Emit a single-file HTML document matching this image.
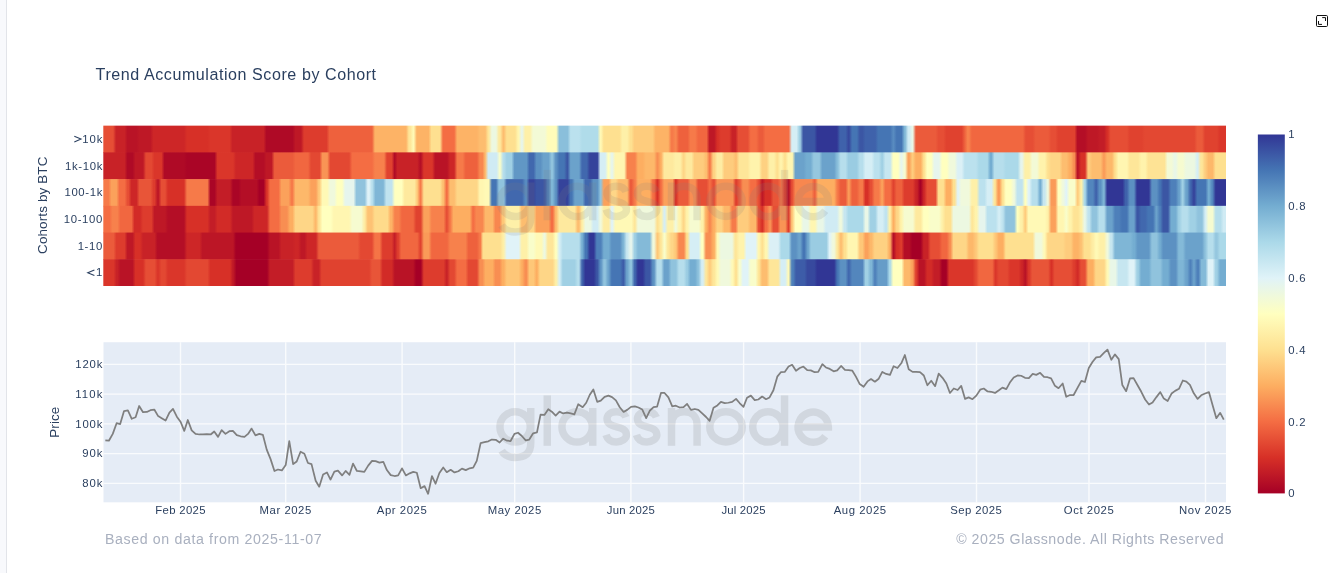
<!DOCTYPE html>
<html><head><meta charset="utf-8"><title>Trend Accumulation Score by Cohort</title>
<style>
html,body{margin:0;padding:0;background:#fff}
body{width:1340px;height:573px;position:relative;overflow:hidden;font-family:"Liberation Sans",sans-serif}
.abs{position:absolute}
</style></head><body>

<div class="abs" style="left:0;top:0;width:6px;height:573px;background:#f8f9fc"></div>
<div class="abs" style="left:6px;top:0;width:1px;height:573px;background:#e2e4e9"></div>
<svg class="abs" style="left:1315px;top:14px" width="14" height="14" viewBox="0 0 14 14" fill="none" stroke="#111" stroke-width="1" stroke-linecap="round" stroke-linejoin="round"><rect x="1.5" y="1.5" width="11" height="11" rx="1.1"/><path d="M7.6,3.6 H10.5 V6.6"/><path d="M3.5,7.4 V10.4 H6.6"/></svg>
<svg class="abs" style="left:0;top:0" width="1340" height="573">
<defs>
<linearGradient id="g0" gradientUnits="userSpaceOnUse" x1="104" x2="1226" y1="0" y2="0"><stop offset="0.00%" stop-color="#e64e35"/><stop offset="0.81%" stop-color="#e64e35"/><stop offset="1.08%" stop-color="#c82227"/><stop offset="1.83%" stop-color="#c82227"/><stop offset="2.09%" stop-color="#b91326"/><stop offset="2.90%" stop-color="#b91326"/><stop offset="3.16%" stop-color="#be1826"/><stop offset="4.14%" stop-color="#be1826"/><stop offset="4.41%" stop-color="#cd2627"/><stop offset="7.13%" stop-color="#cd2627"/><stop offset="7.40%" stop-color="#d73027"/><stop offset="9.22%" stop-color="#d73027"/><stop offset="9.49%" stop-color="#da362a"/><stop offset="11.19%" stop-color="#da362a"/><stop offset="11.45%" stop-color="#c82227"/><stop offset="14.22%" stop-color="#c82227"/><stop offset="14.48%" stop-color="#af0a26"/><stop offset="16.80%" stop-color="#af0a26"/><stop offset="17.07%" stop-color="#be1826"/><stop offset="17.56%" stop-color="#be1826"/><stop offset="17.83%" stop-color="#dd3c2d"/><stop offset="19.83%" stop-color="#dd3c2d"/><stop offset="20.10%" stop-color="#ee613d"/><stop offset="23.89%" stop-color="#ee613d"/><stop offset="24.15%" stop-color="#fdb366"/><stop offset="26.92%" stop-color="#fdb366"/><stop offset="27.18%" stop-color="#fee699"/><stop offset="27.29%" stop-color="#fee699"/><stop offset="27.56%" stop-color="#fff9b6"/><stop offset="27.61%" stop-color="#fff9b6"/><stop offset="27.88%" stop-color="#fdb366"/><stop offset="28.92%" stop-color="#fdb366"/><stop offset="29.19%" stop-color="#fee090"/><stop offset="29.95%" stop-color="#fee090"/><stop offset="30.21%" stop-color="#f46d43"/><stop offset="31.21%" stop-color="#f46d43"/><stop offset="31.48%" stop-color="#fdb366"/><stop offset="33.24%" stop-color="#fdb366"/><stop offset="33.50%" stop-color="#fdbd6f"/><stop offset="33.98%" stop-color="#fdbd6f"/><stop offset="34.25%" stop-color="#fee699"/><stop offset="34.30%" stop-color="#fee699"/><stop offset="34.57%" stop-color="#ecf8e1"/><stop offset="34.94%" stop-color="#ecf8e1"/><stop offset="35.20%" stop-color="#fee99e"/><stop offset="35.31%" stop-color="#fee99e"/><stop offset="35.58%" stop-color="#fdbd6f"/><stop offset="35.63%" stop-color="#fdbd6f"/><stop offset="35.90%" stop-color="#fee090"/><stop offset="36.64%" stop-color="#fee090"/><stop offset="36.91%" stop-color="#fff6b1"/><stop offset="36.96%" stop-color="#fff6b1"/><stop offset="37.23%" stop-color="#e6f5ed"/><stop offset="37.27%" stop-color="#e6f5ed"/><stop offset="37.54%" stop-color="#fef0a8"/><stop offset="37.97%" stop-color="#fef0a8"/><stop offset="38.24%" stop-color="#f3fad6"/><stop offset="39.30%" stop-color="#f3fad6"/><stop offset="39.56%" stop-color="#fffcba"/><stop offset="40.31%" stop-color="#fffcba"/><stop offset="40.58%" stop-color="#8abfdb"/><stop offset="41.32%" stop-color="#8abfdb"/><stop offset="41.59%" stop-color="#bbe1ee"/><stop offset="42.34%" stop-color="#bbe1ee"/><stop offset="42.60%" stop-color="#b0dcea"/><stop offset="43.98%" stop-color="#b0dcea"/><stop offset="44.24%" stop-color="#fff9b6"/><stop offset="44.29%" stop-color="#fff9b6"/><stop offset="44.55%" stop-color="#fee090"/><stop offset="45.94%" stop-color="#fee090"/><stop offset="46.20%" stop-color="#fef0a8"/><stop offset="46.63%" stop-color="#fef0a8"/><stop offset="46.90%" stop-color="#fee090"/><stop offset="47.01%" stop-color="#fee090"/><stop offset="47.28%" stop-color="#fecc7d"/><stop offset="48.90%" stop-color="#fecc7d"/><stop offset="49.17%" stop-color="#fdb366"/><stop offset="50.29%" stop-color="#fdb366"/><stop offset="50.56%" stop-color="#f67a49"/><stop offset="50.67%" stop-color="#f67a49"/><stop offset="50.94%" stop-color="#f8874f"/><stop offset="50.98%" stop-color="#f8874f"/><stop offset="51.25%" stop-color="#ee613d"/><stop offset="52.01%" stop-color="#ee613d"/><stop offset="52.27%" stop-color="#f67a49"/><stop offset="52.69%" stop-color="#f67a49"/><stop offset="52.96%" stop-color="#f16740"/><stop offset="53.70%" stop-color="#f16740"/><stop offset="53.97%" stop-color="#be1826"/><stop offset="54.39%" stop-color="#be1826"/><stop offset="54.66%" stop-color="#d73027"/><stop offset="54.71%" stop-color="#d73027"/><stop offset="54.98%" stop-color="#dd3c2d"/><stop offset="55.72%" stop-color="#dd3c2d"/><stop offset="55.99%" stop-color="#c82227"/><stop offset="56.28%" stop-color="#c82227"/><stop offset="56.55%" stop-color="#e64e35"/><stop offset="57.37%" stop-color="#e64e35"/><stop offset="57.64%" stop-color="#f46d43"/><stop offset="58.13%" stop-color="#f46d43"/><stop offset="58.40%" stop-color="#eb5b3b"/><stop offset="58.69%" stop-color="#eb5b3b"/><stop offset="58.96%" stop-color="#f46d43"/><stop offset="61.03%" stop-color="#f46d43"/><stop offset="61.30%" stop-color="#d5eef5"/><stop offset="61.72%" stop-color="#d5eef5"/><stop offset="61.99%" stop-color="#a0d0e4"/><stop offset="62.05%" stop-color="#a0d0e4"/><stop offset="62.32%" stop-color="#3b56a4"/><stop offset="63.31%" stop-color="#3b56a4"/><stop offset="63.57%" stop-color="#313695"/><stop offset="65.33%" stop-color="#313695"/><stop offset="65.60%" stop-color="#3f62ab"/><stop offset="66.09%" stop-color="#3f62ab"/><stop offset="66.35%" stop-color="#37499e"/><stop offset="66.41%" stop-color="#37499e"/><stop offset="66.68%" stop-color="#4575b4"/><stop offset="67.10%" stop-color="#4575b4"/><stop offset="67.37%" stop-color="#3b56a4"/><stop offset="67.60%" stop-color="#3b56a4"/><stop offset="67.87%" stop-color="#3f62ab"/><stop offset="68.74%" stop-color="#3f62ab"/><stop offset="69.01%" stop-color="#4575b4"/><stop offset="70.07%" stop-color="#4575b4"/><stop offset="70.34%" stop-color="#588bc0"/><stop offset="70.38%" stop-color="#588bc0"/><stop offset="70.65%" stop-color="#4575b4"/><stop offset="71.08%" stop-color="#4575b4"/><stop offset="71.35%" stop-color="#7fb6d6"/><stop offset="71.40%" stop-color="#7fb6d6"/><stop offset="71.67%" stop-color="#d0ebf4"/><stop offset="71.77%" stop-color="#d0ebf4"/><stop offset="72.04%" stop-color="#e9f7e7"/><stop offset="72.09%" stop-color="#e9f7e7"/><stop offset="72.36%" stop-color="#eb5b3b"/><stop offset="74.11%" stop-color="#eb5b3b"/><stop offset="74.38%" stop-color="#e64e35"/><stop offset="74.81%" stop-color="#e64e35"/><stop offset="75.08%" stop-color="#e0422f"/><stop offset="76.45%" stop-color="#e0422f"/><stop offset="76.71%" stop-color="#ee613d"/><stop offset="76.71%" stop-color="#ee613d"/><stop offset="76.96%" stop-color="#f7814c"/><stop offset="77.09%" stop-color="#f7814c"/><stop offset="77.35%" stop-color="#f16740"/><stop offset="81.89%" stop-color="#f16740"/><stop offset="82.16%" stop-color="#e64e35"/><stop offset="82.77%" stop-color="#e64e35"/><stop offset="83.04%" stop-color="#eb5b3b"/><stop offset="84.15%" stop-color="#eb5b3b"/><stop offset="84.42%" stop-color="#e64e35"/><stop offset="84.79%" stop-color="#e64e35"/><stop offset="85.05%" stop-color="#e0422f"/><stop offset="86.50%" stop-color="#e0422f"/><stop offset="86.76%" stop-color="#b40e26"/><stop offset="87.44%" stop-color="#b40e26"/><stop offset="87.71%" stop-color="#be1826"/><stop offset="88.51%" stop-color="#be1826"/><stop offset="88.78%" stop-color="#c31d27"/><stop offset="89.14%" stop-color="#c31d27"/><stop offset="89.41%" stop-color="#d73027"/><stop offset="89.46%" stop-color="#d73027"/><stop offset="89.72%" stop-color="#e64e35"/><stop offset="91.17%" stop-color="#e64e35"/><stop offset="91.43%" stop-color="#e0422f"/><stop offset="92.50%" stop-color="#e0422f"/><stop offset="92.76%" stop-color="#e34832"/><stop offset="97.17%" stop-color="#e34832"/><stop offset="97.44%" stop-color="#eb5b3b"/><stop offset="97.87%" stop-color="#eb5b3b"/><stop offset="98.14%" stop-color="#e0422f"/><stop offset="99.20%" stop-color="#e0422f"/><stop offset="99.47%" stop-color="#da362a"/><stop offset="100.00%" stop-color="#da362a"/></linearGradient>
<linearGradient id="g1" gradientUnits="userSpaceOnUse" x1="104" x2="1226" y1="0" y2="0"><stop offset="0.00%" stop-color="#c82227"/><stop offset="1.83%" stop-color="#c82227"/><stop offset="2.09%" stop-color="#af0a26"/><stop offset="2.54%" stop-color="#af0a26"/><stop offset="2.81%" stop-color="#be1826"/><stop offset="3.48%" stop-color="#be1826"/><stop offset="3.74%" stop-color="#e34832"/><stop offset="4.23%" stop-color="#e34832"/><stop offset="4.50%" stop-color="#da362a"/><stop offset="5.12%" stop-color="#da362a"/><stop offset="5.39%" stop-color="#af0a26"/><stop offset="7.13%" stop-color="#af0a26"/><stop offset="7.40%" stop-color="#aa0526"/><stop offset="9.85%" stop-color="#aa0526"/><stop offset="10.12%" stop-color="#da362a"/><stop offset="11.50%" stop-color="#da362a"/><stop offset="11.76%" stop-color="#cd2627"/><stop offset="13.24%" stop-color="#cd2627"/><stop offset="13.50%" stop-color="#b40e26"/><stop offset="14.22%" stop-color="#b40e26"/><stop offset="14.48%" stop-color="#be1826"/><stop offset="14.93%" stop-color="#be1826"/><stop offset="15.20%" stop-color="#eb5b3b"/><stop offset="16.80%" stop-color="#eb5b3b"/><stop offset="17.07%" stop-color="#f16740"/><stop offset="18.19%" stop-color="#f16740"/><stop offset="18.46%" stop-color="#e34832"/><stop offset="19.21%" stop-color="#e34832"/><stop offset="19.47%" stop-color="#f99455"/><stop offset="19.90%" stop-color="#f99455"/><stop offset="20.17%" stop-color="#e34832"/><stop offset="21.85%" stop-color="#e34832"/><stop offset="22.12%" stop-color="#f46d43"/><stop offset="23.89%" stop-color="#f46d43"/><stop offset="24.15%" stop-color="#f7814c"/><stop offset="24.96%" stop-color="#f7814c"/><stop offset="25.22%" stop-color="#e0422f"/><stop offset="25.65%" stop-color="#e0422f"/><stop offset="25.90%" stop-color="#af0a26"/><stop offset="25.90%" stop-color="#af0a26"/><stop offset="26.16%" stop-color="#c82227"/><stop offset="27.92%" stop-color="#c82227"/><stop offset="28.19%" stop-color="#b40e26"/><stop offset="28.24%" stop-color="#b40e26"/><stop offset="28.51%" stop-color="#da362a"/><stop offset="29.25%" stop-color="#da362a"/><stop offset="29.52%" stop-color="#b91326"/><stop offset="30.58%" stop-color="#b91326"/><stop offset="30.85%" stop-color="#cd2627"/><stop offset="31.21%" stop-color="#cd2627"/><stop offset="31.48%" stop-color="#f67a49"/><stop offset="31.97%" stop-color="#f67a49"/><stop offset="32.24%" stop-color="#ee613d"/><stop offset="33.24%" stop-color="#ee613d"/><stop offset="33.50%" stop-color="#f8874f"/><stop offset="33.73%" stop-color="#f8874f"/><stop offset="33.99%" stop-color="#fdbd6f"/><stop offset="33.99%" stop-color="#fdbd6f"/><stop offset="34.25%" stop-color="#d0ebf4"/><stop offset="35.00%" stop-color="#d0ebf4"/><stop offset="35.27%" stop-color="#f9fdca"/><stop offset="35.31%" stop-color="#f9fdca"/><stop offset="35.58%" stop-color="#b6deec"/><stop offset="35.63%" stop-color="#b6deec"/><stop offset="35.90%" stop-color="#a0d0e4"/><stop offset="36.32%" stop-color="#a0d0e4"/><stop offset="36.59%" stop-color="#6197c5"/><stop offset="37.66%" stop-color="#6197c5"/><stop offset="37.92%" stop-color="#4168ae"/><stop offset="38.28%" stop-color="#4168ae"/><stop offset="38.55%" stop-color="#5c91c2"/><stop offset="38.90%" stop-color="#5c91c2"/><stop offset="39.17%" stop-color="#6ba2cb"/><stop offset="39.62%" stop-color="#6ba2cb"/><stop offset="39.88%" stop-color="#90c3dd"/><stop offset="39.99%" stop-color="#90c3dd"/><stop offset="40.26%" stop-color="#5c91c2"/><stop offset="40.31%" stop-color="#5c91c2"/><stop offset="40.58%" stop-color="#4575b4"/><stop offset="41.01%" stop-color="#4575b4"/><stop offset="41.27%" stop-color="#3b56a4"/><stop offset="41.32%" stop-color="#3b56a4"/><stop offset="41.59%" stop-color="#6ba2cb"/><stop offset="42.34%" stop-color="#6ba2cb"/><stop offset="42.60%" stop-color="#4168ae"/><stop offset="43.03%" stop-color="#4168ae"/><stop offset="43.30%" stop-color="#35439b"/><stop offset="43.98%" stop-color="#35439b"/><stop offset="44.24%" stop-color="#d5eef5"/><stop offset="44.67%" stop-color="#d5eef5"/><stop offset="44.94%" stop-color="#ffffbf"/><stop offset="44.98%" stop-color="#ffffbf"/><stop offset="45.25%" stop-color="#e6f5ed"/><stop offset="45.30%" stop-color="#e6f5ed"/><stop offset="45.57%" stop-color="#fff6b1"/><stop offset="46.37%" stop-color="#fff6b1"/><stop offset="46.64%" stop-color="#f7814c"/><stop offset="47.33%" stop-color="#f7814c"/><stop offset="47.59%" stop-color="#fdae61"/><stop offset="48.02%" stop-color="#fdae61"/><stop offset="48.29%" stop-color="#fdb86a"/><stop offset="49.03%" stop-color="#fdb86a"/><stop offset="49.30%" stop-color="#f88e52"/><stop offset="49.35%" stop-color="#f88e52"/><stop offset="49.62%" stop-color="#fdae61"/><stop offset="49.66%" stop-color="#fdae61"/><stop offset="49.93%" stop-color="#fee99e"/><stop offset="50.67%" stop-color="#fee99e"/><stop offset="50.94%" stop-color="#fef0a8"/><stop offset="51.36%" stop-color="#fef0a8"/><stop offset="51.63%" stop-color="#fed687"/><stop offset="51.68%" stop-color="#fed687"/><stop offset="51.94%" stop-color="#fee99e"/><stop offset="52.36%" stop-color="#fee99e"/><stop offset="52.63%" stop-color="#fecc7d"/><stop offset="53.39%" stop-color="#fecc7d"/><stop offset="53.65%" stop-color="#fdbd6f"/><stop offset="53.70%" stop-color="#fdbd6f"/><stop offset="53.97%" stop-color="#f67a49"/><stop offset="54.02%" stop-color="#f67a49"/><stop offset="54.29%" stop-color="#fed182"/><stop offset="54.39%" stop-color="#fed182"/><stop offset="54.66%" stop-color="#feeca3"/><stop offset="55.04%" stop-color="#feeca3"/><stop offset="55.30%" stop-color="#fecc7d"/><stop offset="56.04%" stop-color="#fecc7d"/><stop offset="56.31%" stop-color="#fdbd6f"/><stop offset="56.35%" stop-color="#fdbd6f"/><stop offset="56.62%" stop-color="#fee699"/><stop offset="57.37%" stop-color="#fee699"/><stop offset="57.64%" stop-color="#fff3ac"/><stop offset="58.38%" stop-color="#fff3ac"/><stop offset="58.65%" stop-color="#fed182"/><stop offset="59.07%" stop-color="#fed182"/><stop offset="59.34%" stop-color="#fef0a8"/><stop offset="59.71%" stop-color="#fef0a8"/><stop offset="59.97%" stop-color="#fee090"/><stop offset="60.03%" stop-color="#fee090"/><stop offset="60.29%" stop-color="#fff3ac"/><stop offset="60.40%" stop-color="#fff3ac"/><stop offset="60.67%" stop-color="#fee090"/><stop offset="60.72%" stop-color="#fee090"/><stop offset="60.99%" stop-color="#fff6b1"/><stop offset="61.35%" stop-color="#fff6b1"/><stop offset="61.62%" stop-color="#6ba2cb"/><stop offset="62.36%" stop-color="#6ba2cb"/><stop offset="62.63%" stop-color="#74add1"/><stop offset="62.99%" stop-color="#74add1"/><stop offset="63.26%" stop-color="#95c7df"/><stop offset="63.75%" stop-color="#95c7df"/><stop offset="64.02%" stop-color="#6ba2cb"/><stop offset="65.08%" stop-color="#6ba2cb"/><stop offset="65.35%" stop-color="#8abfdb"/><stop offset="65.39%" stop-color="#8abfdb"/><stop offset="65.66%" stop-color="#b6deec"/><stop offset="66.09%" stop-color="#b6deec"/><stop offset="66.35%" stop-color="#9acce2"/><stop offset="67.10%" stop-color="#9acce2"/><stop offset="67.37%" stop-color="#b6deec"/><stop offset="67.60%" stop-color="#b6deec"/><stop offset="67.87%" stop-color="#d5eef5"/><stop offset="68.42%" stop-color="#d5eef5"/><stop offset="68.69%" stop-color="#bbe1ee"/><stop offset="69.06%" stop-color="#bbe1ee"/><stop offset="69.32%" stop-color="#a0d0e4"/><stop offset="69.38%" stop-color="#a0d0e4"/><stop offset="69.64%" stop-color="#c6e6f0"/><stop offset="70.07%" stop-color="#c6e6f0"/><stop offset="70.34%" stop-color="#ffffbf"/><stop offset="70.77%" stop-color="#ffffbf"/><stop offset="71.03%" stop-color="#e6f5ed"/><stop offset="71.08%" stop-color="#e6f5ed"/><stop offset="71.35%" stop-color="#f6fbd0"/><stop offset="71.40%" stop-color="#f6fbd0"/><stop offset="71.67%" stop-color="#fba15b"/><stop offset="71.77%" stop-color="#fba15b"/><stop offset="72.04%" stop-color="#fecc7d"/><stop offset="72.09%" stop-color="#fecc7d"/><stop offset="72.36%" stop-color="#fdae61"/><stop offset="72.79%" stop-color="#fdae61"/><stop offset="73.06%" stop-color="#fee090"/><stop offset="73.10%" stop-color="#fee090"/><stop offset="73.37%" stop-color="#ffffbf"/><stop offset="73.73%" stop-color="#ffffbf"/><stop offset="74.00%" stop-color="#e6f5ed"/><stop offset="74.43%" stop-color="#e6f5ed"/><stop offset="74.70%" stop-color="#ffffbf"/><stop offset="75.12%" stop-color="#ffffbf"/><stop offset="75.39%" stop-color="#f0f9dc"/><stop offset="75.82%" stop-color="#f0f9dc"/><stop offset="76.09%" stop-color="#dbf0f6"/><stop offset="76.45%" stop-color="#dbf0f6"/><stop offset="76.72%" stop-color="#bbe1ee"/><stop offset="77.72%" stop-color="#bbe1ee"/><stop offset="77.99%" stop-color="#abd9e9"/><stop offset="78.73%" stop-color="#abd9e9"/><stop offset="78.99%" stop-color="#74add1"/><stop offset="79.10%" stop-color="#74add1"/><stop offset="79.37%" stop-color="#b6deec"/><stop offset="80.12%" stop-color="#b6deec"/><stop offset="80.38%" stop-color="#abd9e9"/><stop offset="81.44%" stop-color="#abd9e9"/><stop offset="81.71%" stop-color="#e6f5ed"/><stop offset="81.83%" stop-color="#e6f5ed"/><stop offset="82.09%" stop-color="#fef0a8"/><stop offset="82.46%" stop-color="#fef0a8"/><stop offset="82.73%" stop-color="#f3fad6"/><stop offset="83.16%" stop-color="#f3fad6"/><stop offset="83.42%" stop-color="#fff3ac"/><stop offset="83.85%" stop-color="#fff3ac"/><stop offset="84.12%" stop-color="#fee090"/><stop offset="84.15%" stop-color="#fee090"/><stop offset="84.42%" stop-color="#fed687"/><stop offset="85.16%" stop-color="#fed687"/><stop offset="85.43%" stop-color="#fdbd6f"/><stop offset="85.78%" stop-color="#fdbd6f"/><stop offset="86.05%" stop-color="#fdae61"/><stop offset="86.18%" stop-color="#fdae61"/><stop offset="86.44%" stop-color="#f88e52"/><stop offset="86.50%" stop-color="#f88e52"/><stop offset="86.76%" stop-color="#b91326"/><stop offset="86.81%" stop-color="#b91326"/><stop offset="87.08%" stop-color="#d73027"/><stop offset="87.44%" stop-color="#d73027"/><stop offset="87.71%" stop-color="#fecc7d"/><stop offset="87.82%" stop-color="#fecc7d"/><stop offset="88.08%" stop-color="#fdbd6f"/><stop offset="88.83%" stop-color="#fdbd6f"/><stop offset="89.10%" stop-color="#fa9a58"/><stop offset="89.14%" stop-color="#fa9a58"/><stop offset="89.41%" stop-color="#fdb86a"/><stop offset="89.84%" stop-color="#fdb86a"/><stop offset="90.11%" stop-color="#fee090"/><stop offset="90.15%" stop-color="#fee090"/><stop offset="90.42%" stop-color="#fff6b1"/><stop offset="91.17%" stop-color="#fff6b1"/><stop offset="91.43%" stop-color="#fee699"/><stop offset="92.17%" stop-color="#fee699"/><stop offset="92.44%" stop-color="#fff3ac"/><stop offset="92.81%" stop-color="#fff3ac"/><stop offset="93.07%" stop-color="#fee395"/><stop offset="94.52%" stop-color="#fee395"/><stop offset="94.79%" stop-color="#f3fad6"/><stop offset="95.14%" stop-color="#f3fad6"/><stop offset="95.41%" stop-color="#e9f7e7"/><stop offset="95.53%" stop-color="#e9f7e7"/><stop offset="95.79%" stop-color="#f6fbd0"/><stop offset="96.16%" stop-color="#f6fbd0"/><stop offset="96.43%" stop-color="#ecf8e1"/><stop offset="97.17%" stop-color="#ecf8e1"/><stop offset="97.44%" stop-color="#d5eef5"/><stop offset="97.49%" stop-color="#d5eef5"/><stop offset="97.75%" stop-color="#fee699"/><stop offset="97.87%" stop-color="#fee699"/><stop offset="98.14%" stop-color="#fecc7d"/><stop offset="98.17%" stop-color="#fecc7d"/><stop offset="98.44%" stop-color="#fdb86a"/><stop offset="98.81%" stop-color="#fdb86a"/><stop offset="99.08%" stop-color="#fee090"/><stop offset="100.00%" stop-color="#fee090"/></linearGradient>
<linearGradient id="g2" gradientUnits="userSpaceOnUse" x1="104" x2="1226" y1="0" y2="0"><stop offset="0.00%" stop-color="#f67a49"/><stop offset="0.40%" stop-color="#f67a49"/><stop offset="0.67%" stop-color="#fba15b"/><stop offset="1.11%" stop-color="#fba15b"/><stop offset="1.38%" stop-color="#f46d43"/><stop offset="1.83%" stop-color="#f46d43"/><stop offset="2.09%" stop-color="#e64e35"/><stop offset="2.18%" stop-color="#e64e35"/><stop offset="2.45%" stop-color="#cd2627"/><stop offset="2.90%" stop-color="#cd2627"/><stop offset="3.16%" stop-color="#e85538"/><stop offset="4.14%" stop-color="#e85538"/><stop offset="4.41%" stop-color="#dd3c2d"/><stop offset="4.50%" stop-color="#dd3c2d"/><stop offset="4.77%" stop-color="#be1826"/><stop offset="4.86%" stop-color="#be1826"/><stop offset="5.12%" stop-color="#e64e35"/><stop offset="5.44%" stop-color="#e64e35"/><stop offset="5.70%" stop-color="#d73027"/><stop offset="7.13%" stop-color="#d73027"/><stop offset="7.40%" stop-color="#f67a49"/><stop offset="9.22%" stop-color="#f67a49"/><stop offset="9.49%" stop-color="#aa0526"/><stop offset="9.85%" stop-color="#aa0526"/><stop offset="10.12%" stop-color="#c31d27"/><stop offset="11.23%" stop-color="#c31d27"/><stop offset="11.50%" stop-color="#aa0526"/><stop offset="11.99%" stop-color="#aa0526"/><stop offset="12.25%" stop-color="#b40e26"/><stop offset="13.59%" stop-color="#b40e26"/><stop offset="13.86%" stop-color="#a50026"/><stop offset="14.22%" stop-color="#a50026"/><stop offset="14.48%" stop-color="#d73027"/><stop offset="14.53%" stop-color="#d73027"/><stop offset="14.80%" stop-color="#f46d43"/><stop offset="15.55%" stop-color="#f46d43"/><stop offset="15.82%" stop-color="#fba15b"/><stop offset="16.44%" stop-color="#fba15b"/><stop offset="16.71%" stop-color="#f67a49"/><stop offset="16.80%" stop-color="#f67a49"/><stop offset="17.07%" stop-color="#fdb86a"/><stop offset="18.19%" stop-color="#fdb86a"/><stop offset="18.46%" stop-color="#fba15b"/><stop offset="18.89%" stop-color="#fba15b"/><stop offset="19.15%" stop-color="#fecc7d"/><stop offset="19.21%" stop-color="#fecc7d"/><stop offset="19.47%" stop-color="#fff9b6"/><stop offset="19.90%" stop-color="#fff9b6"/><stop offset="20.17%" stop-color="#f0f9dc"/><stop offset="20.53%" stop-color="#f0f9dc"/><stop offset="20.79%" stop-color="#ffffbf"/><stop offset="21.22%" stop-color="#ffffbf"/><stop offset="21.49%" stop-color="#e6f5ed"/><stop offset="22.24%" stop-color="#e6f5ed"/><stop offset="22.50%" stop-color="#90c3dd"/><stop offset="23.24%" stop-color="#90c3dd"/><stop offset="23.51%" stop-color="#e0f3f8"/><stop offset="23.63%" stop-color="#e0f3f8"/><stop offset="23.89%" stop-color="#b6deec"/><stop offset="23.93%" stop-color="#b6deec"/><stop offset="24.20%" stop-color="#7fb6d6"/><stop offset="24.89%" stop-color="#7fb6d6"/><stop offset="25.16%" stop-color="#c0e3ef"/><stop offset="25.65%" stop-color="#c0e3ef"/><stop offset="25.92%" stop-color="#ffffbf"/><stop offset="26.53%" stop-color="#ffffbf"/><stop offset="26.80%" stop-color="#fee99e"/><stop offset="27.67%" stop-color="#fee99e"/><stop offset="27.93%" stop-color="#fec778"/><stop offset="27.93%" stop-color="#fec778"/><stop offset="28.19%" stop-color="#f67a49"/><stop offset="28.24%" stop-color="#f67a49"/><stop offset="28.51%" stop-color="#fee090"/><stop offset="29.95%" stop-color="#fee090"/><stop offset="30.21%" stop-color="#fdbd6f"/><stop offset="30.26%" stop-color="#fdbd6f"/><stop offset="30.53%" stop-color="#f46d43"/><stop offset="30.58%" stop-color="#f46d43"/><stop offset="30.85%" stop-color="#fdbd6f"/><stop offset="31.21%" stop-color="#fdbd6f"/><stop offset="31.48%" stop-color="#fed687"/><stop offset="33.24%" stop-color="#fed687"/><stop offset="33.50%" stop-color="#fff6b1"/><stop offset="33.73%" stop-color="#fff6b1"/><stop offset="34.00%" stop-color="#fff9b6"/><stop offset="34.30%" stop-color="#fff9b6"/><stop offset="34.57%" stop-color="#4575b4"/><stop offset="34.94%" stop-color="#4575b4"/><stop offset="35.20%" stop-color="#90c3dd"/><stop offset="35.63%" stop-color="#90c3dd"/><stop offset="35.90%" stop-color="#4168ae"/><stop offset="37.27%" stop-color="#4168ae"/><stop offset="37.54%" stop-color="#588bc0"/><stop offset="37.66%" stop-color="#588bc0"/><stop offset="37.92%" stop-color="#35439b"/><stop offset="38.28%" stop-color="#35439b"/><stop offset="38.55%" stop-color="#3b56a4"/><stop offset="39.30%" stop-color="#3b56a4"/><stop offset="39.56%" stop-color="#4e80ba"/><stop offset="39.62%" stop-color="#4e80ba"/><stop offset="39.88%" stop-color="#7fb6d6"/><stop offset="39.99%" stop-color="#7fb6d6"/><stop offset="40.26%" stop-color="#5c91c2"/><stop offset="40.31%" stop-color="#5c91c2"/><stop offset="40.58%" stop-color="#35439b"/><stop offset="41.32%" stop-color="#35439b"/><stop offset="41.59%" stop-color="#4575b4"/><stop offset="41.70%" stop-color="#4575b4"/><stop offset="41.97%" stop-color="#6ba2cb"/><stop offset="42.65%" stop-color="#6ba2cb"/><stop offset="42.91%" stop-color="#4168ae"/><stop offset="43.34%" stop-color="#4168ae"/><stop offset="43.61%" stop-color="#5c91c2"/><stop offset="43.98%" stop-color="#5c91c2"/><stop offset="44.24%" stop-color="#90c3dd"/><stop offset="44.29%" stop-color="#90c3dd"/><stop offset="44.55%" stop-color="#fba15b"/><stop offset="44.98%" stop-color="#fba15b"/><stop offset="45.25%" stop-color="#fed687"/><stop offset="45.61%" stop-color="#fed687"/><stop offset="45.88%" stop-color="#fdbd6f"/><stop offset="46.63%" stop-color="#fdbd6f"/><stop offset="46.90%" stop-color="#eb5b3b"/><stop offset="47.01%" stop-color="#eb5b3b"/><stop offset="47.28%" stop-color="#f67a49"/><stop offset="47.33%" stop-color="#f67a49"/><stop offset="47.59%" stop-color="#fdae61"/><stop offset="48.65%" stop-color="#fdae61"/><stop offset="48.92%" stop-color="#f46d43"/><stop offset="49.03%" stop-color="#f46d43"/><stop offset="49.30%" stop-color="#d73027"/><stop offset="49.35%" stop-color="#d73027"/><stop offset="49.62%" stop-color="#f46d43"/><stop offset="49.66%" stop-color="#f46d43"/><stop offset="49.93%" stop-color="#fba15b"/><stop offset="50.67%" stop-color="#fba15b"/><stop offset="50.94%" stop-color="#d73027"/><stop offset="50.98%" stop-color="#d73027"/><stop offset="51.25%" stop-color="#eb5b3b"/><stop offset="52.01%" stop-color="#eb5b3b"/><stop offset="52.27%" stop-color="#f88e52"/><stop offset="52.69%" stop-color="#f88e52"/><stop offset="52.96%" stop-color="#e64e35"/><stop offset="53.70%" stop-color="#e64e35"/><stop offset="53.97%" stop-color="#f46d43"/><stop offset="54.02%" stop-color="#f46d43"/><stop offset="54.29%" stop-color="#e64e35"/><stop offset="54.39%" stop-color="#e64e35"/><stop offset="54.66%" stop-color="#f99455"/><stop offset="56.04%" stop-color="#f99455"/><stop offset="56.31%" stop-color="#dd3c2d"/><stop offset="56.35%" stop-color="#dd3c2d"/><stop offset="56.62%" stop-color="#eb5b3b"/><stop offset="56.68%" stop-color="#eb5b3b"/><stop offset="56.94%" stop-color="#f88e52"/><stop offset="57.37%" stop-color="#f88e52"/><stop offset="57.64%" stop-color="#f46d43"/><stop offset="58.07%" stop-color="#f46d43"/><stop offset="58.33%" stop-color="#e64e35"/><stop offset="58.38%" stop-color="#e64e35"/><stop offset="58.65%" stop-color="#be1826"/><stop offset="58.69%" stop-color="#be1826"/><stop offset="58.96%" stop-color="#d73027"/><stop offset="59.39%" stop-color="#d73027"/><stop offset="59.66%" stop-color="#e85538"/><stop offset="60.03%" stop-color="#e85538"/><stop offset="60.29%" stop-color="#f46d43"/><stop offset="60.40%" stop-color="#f46d43"/><stop offset="60.67%" stop-color="#dd3c2d"/><stop offset="60.72%" stop-color="#dd3c2d"/><stop offset="60.99%" stop-color="#b40e26"/><stop offset="61.03%" stop-color="#b40e26"/><stop offset="61.30%" stop-color="#e64e35"/><stop offset="61.35%" stop-color="#e64e35"/><stop offset="61.62%" stop-color="#f8874f"/><stop offset="63.06%" stop-color="#f8874f"/><stop offset="63.32%" stop-color="#ee613d"/><stop offset="63.37%" stop-color="#ee613d"/><stop offset="63.64%" stop-color="#fdae61"/><stop offset="65.08%" stop-color="#fdae61"/><stop offset="65.35%" stop-color="#f67a49"/><stop offset="65.39%" stop-color="#f67a49"/><stop offset="65.66%" stop-color="#eb5b3b"/><stop offset="66.09%" stop-color="#eb5b3b"/><stop offset="66.35%" stop-color="#fa9a58"/><stop offset="66.41%" stop-color="#fa9a58"/><stop offset="66.68%" stop-color="#ee613d"/><stop offset="67.10%" stop-color="#ee613d"/><stop offset="67.37%" stop-color="#f67a49"/><stop offset="67.60%" stop-color="#f67a49"/><stop offset="67.87%" stop-color="#d73027"/><stop offset="68.05%" stop-color="#d73027"/><stop offset="68.32%" stop-color="#e64e35"/><stop offset="68.42%" stop-color="#e64e35"/><stop offset="68.69%" stop-color="#f67a49"/><stop offset="69.06%" stop-color="#f67a49"/><stop offset="69.32%" stop-color="#fba15b"/><stop offset="69.38%" stop-color="#fba15b"/><stop offset="69.64%" stop-color="#f46d43"/><stop offset="70.07%" stop-color="#f46d43"/><stop offset="70.34%" stop-color="#e0422f"/><stop offset="70.38%" stop-color="#e0422f"/><stop offset="70.65%" stop-color="#ee613d"/><stop offset="71.08%" stop-color="#ee613d"/><stop offset="71.35%" stop-color="#dd3c2d"/><stop offset="72.09%" stop-color="#dd3c2d"/><stop offset="72.36%" stop-color="#c82227"/><stop offset="72.47%" stop-color="#c82227"/><stop offset="72.74%" stop-color="#a50026"/><stop offset="72.79%" stop-color="#a50026"/><stop offset="73.06%" stop-color="#cd2627"/><stop offset="73.10%" stop-color="#cd2627"/><stop offset="73.37%" stop-color="#e64e35"/><stop offset="74.11%" stop-color="#e64e35"/><stop offset="74.38%" stop-color="#fee090"/><stop offset="74.81%" stop-color="#fee090"/><stop offset="75.08%" stop-color="#fdae61"/><stop offset="75.45%" stop-color="#fdae61"/><stop offset="75.71%" stop-color="#fee090"/><stop offset="75.82%" stop-color="#fee090"/><stop offset="76.09%" stop-color="#e0f3f8"/><stop offset="76.13%" stop-color="#e0f3f8"/><stop offset="76.40%" stop-color="#f0f9dc"/><stop offset="77.09%" stop-color="#f0f9dc"/><stop offset="77.35%" stop-color="#fef0a8"/><stop offset="77.78%" stop-color="#fef0a8"/><stop offset="78.05%" stop-color="#bbe1ee"/><stop offset="78.48%" stop-color="#bbe1ee"/><stop offset="78.74%" stop-color="#d5eef5"/><stop offset="79.10%" stop-color="#d5eef5"/><stop offset="79.37%" stop-color="#fee699"/><stop offset="79.42%" stop-color="#fee699"/><stop offset="79.69%" stop-color="#fa9a58"/><stop offset="79.80%" stop-color="#fa9a58"/><stop offset="80.07%" stop-color="#fee090"/><stop offset="80.12%" stop-color="#fee090"/><stop offset="80.38%" stop-color="#ffffbf"/><stop offset="80.81%" stop-color="#ffffbf"/><stop offset="81.08%" stop-color="#f0f9dc"/><stop offset="81.13%" stop-color="#f0f9dc"/><stop offset="81.40%" stop-color="#c0e3ef"/><stop offset="81.83%" stop-color="#c0e3ef"/><stop offset="82.09%" stop-color="#ffffbf"/><stop offset="82.13%" stop-color="#ffffbf"/><stop offset="82.40%" stop-color="#e0f3f8"/><stop offset="82.46%" stop-color="#e0f3f8"/><stop offset="82.73%" stop-color="#b6deec"/><stop offset="83.16%" stop-color="#b6deec"/><stop offset="83.42%" stop-color="#74add1"/><stop offset="83.47%" stop-color="#74add1"/><stop offset="83.73%" stop-color="#c6e6f0"/><stop offset="83.85%" stop-color="#c6e6f0"/><stop offset="84.12%" stop-color="#f0f9dc"/><stop offset="84.15%" stop-color="#f0f9dc"/><stop offset="84.42%" stop-color="#fa9a58"/><stop offset="84.79%" stop-color="#fa9a58"/><stop offset="85.05%" stop-color="#ffffbf"/><stop offset="85.16%" stop-color="#ffffbf"/><stop offset="85.43%" stop-color="#f0f9dc"/><stop offset="85.48%" stop-color="#f0f9dc"/><stop offset="85.75%" stop-color="#e0f3f8"/><stop offset="85.78%" stop-color="#e0f3f8"/><stop offset="86.05%" stop-color="#f9fdca"/><stop offset="86.50%" stop-color="#f9fdca"/><stop offset="86.76%" stop-color="#fecc7d"/><stop offset="86.81%" stop-color="#fecc7d"/><stop offset="87.08%" stop-color="#fef0a8"/><stop offset="87.12%" stop-color="#fef0a8"/><stop offset="87.39%" stop-color="#abd9e9"/><stop offset="87.44%" stop-color="#abd9e9"/><stop offset="87.71%" stop-color="#5386bd"/><stop offset="88.14%" stop-color="#5386bd"/><stop offset="88.40%" stop-color="#3f62ab"/><stop offset="88.45%" stop-color="#3f62ab"/><stop offset="88.72%" stop-color="#5c91c2"/><stop offset="88.83%" stop-color="#5c91c2"/><stop offset="89.10%" stop-color="#7fb6d6"/><stop offset="89.14%" stop-color="#7fb6d6"/><stop offset="89.41%" stop-color="#313695"/><stop offset="90.78%" stop-color="#313695"/><stop offset="91.04%" stop-color="#3f62ab"/><stop offset="91.17%" stop-color="#3f62ab"/><stop offset="91.43%" stop-color="#5c91c2"/><stop offset="91.80%" stop-color="#5c91c2"/><stop offset="92.07%" stop-color="#313695"/><stop offset="93.13%" stop-color="#313695"/><stop offset="93.40%" stop-color="#5c91c2"/><stop offset="93.82%" stop-color="#5c91c2"/><stop offset="94.09%" stop-color="#4575b4"/><stop offset="94.14%" stop-color="#4575b4"/><stop offset="94.40%" stop-color="#3b56a4"/><stop offset="94.83%" stop-color="#3b56a4"/><stop offset="95.10%" stop-color="#4e80ba"/><stop offset="95.53%" stop-color="#4e80ba"/><stop offset="95.79%" stop-color="#6ba2cb"/><stop offset="95.85%" stop-color="#6ba2cb"/><stop offset="96.11%" stop-color="#a0d0e4"/><stop offset="96.16%" stop-color="#a0d0e4"/><stop offset="96.43%" stop-color="#6ba2cb"/><stop offset="96.54%" stop-color="#6ba2cb"/><stop offset="96.81%" stop-color="#4168ae"/><stop offset="96.85%" stop-color="#4168ae"/><stop offset="97.12%" stop-color="#35439b"/><stop offset="97.17%" stop-color="#35439b"/><stop offset="97.44%" stop-color="#4575b4"/><stop offset="98.17%" stop-color="#4575b4"/><stop offset="98.44%" stop-color="#74add1"/><stop offset="98.50%" stop-color="#74add1"/><stop offset="98.77%" stop-color="#5386bd"/><stop offset="98.81%" stop-color="#5386bd"/><stop offset="99.08%" stop-color="#313695"/><stop offset="100.00%" stop-color="#313695"/></linearGradient>
<linearGradient id="g3" gradientUnits="userSpaceOnUse" x1="104" x2="1226" y1="0" y2="0"><stop offset="0.00%" stop-color="#f46d43"/><stop offset="0.49%" stop-color="#f46d43"/><stop offset="0.76%" stop-color="#f7814c"/><stop offset="1.20%" stop-color="#f7814c"/><stop offset="1.47%" stop-color="#f16740"/><stop offset="2.45%" stop-color="#f16740"/><stop offset="2.72%" stop-color="#d22b27"/><stop offset="3.21%" stop-color="#d22b27"/><stop offset="3.48%" stop-color="#dd3c2d"/><stop offset="4.23%" stop-color="#dd3c2d"/><stop offset="4.50%" stop-color="#be1826"/><stop offset="5.44%" stop-color="#be1826"/><stop offset="5.70%" stop-color="#b40e26"/><stop offset="7.13%" stop-color="#b40e26"/><stop offset="7.40%" stop-color="#d73027"/><stop offset="9.22%" stop-color="#d73027"/><stop offset="9.49%" stop-color="#c31d27"/><stop offset="9.85%" stop-color="#c31d27"/><stop offset="10.12%" stop-color="#d22b27"/><stop offset="11.23%" stop-color="#d22b27"/><stop offset="11.50%" stop-color="#be1826"/><stop offset="13.15%" stop-color="#be1826"/><stop offset="13.41%" stop-color="#cd2627"/><stop offset="14.53%" stop-color="#cd2627"/><stop offset="14.80%" stop-color="#f46d43"/><stop offset="15.55%" stop-color="#f46d43"/><stop offset="15.82%" stop-color="#f88e52"/><stop offset="16.31%" stop-color="#f88e52"/><stop offset="16.58%" stop-color="#fdae61"/><stop offset="16.80%" stop-color="#fdae61"/><stop offset="17.07%" stop-color="#fed687"/><stop offset="18.57%" stop-color="#fed687"/><stop offset="18.84%" stop-color="#fdb86a"/><stop offset="18.89%" stop-color="#fdb86a"/><stop offset="19.15%" stop-color="#fee699"/><stop offset="19.21%" stop-color="#fee699"/><stop offset="19.47%" stop-color="#ffffbf"/><stop offset="20.21%" stop-color="#ffffbf"/><stop offset="20.48%" stop-color="#fff6b1"/><stop offset="21.85%" stop-color="#fff6b1"/><stop offset="22.12%" stop-color="#f6fbd0"/><stop offset="22.93%" stop-color="#f6fbd0"/><stop offset="23.20%" stop-color="#feeca3"/><stop offset="23.24%" stop-color="#feeca3"/><stop offset="23.51%" stop-color="#fdc274"/><stop offset="23.88%" stop-color="#fdc274"/><stop offset="24.14%" stop-color="#fedb8b"/><stop offset="25.27%" stop-color="#fedb8b"/><stop offset="25.53%" stop-color="#fdb366"/><stop offset="25.65%" stop-color="#fdb366"/><stop offset="25.92%" stop-color="#f7814c"/><stop offset="26.28%" stop-color="#f7814c"/><stop offset="26.55%" stop-color="#f16740"/><stop offset="27.55%" stop-color="#f16740"/><stop offset="27.82%" stop-color="#e0422f"/><stop offset="28.24%" stop-color="#e0422f"/><stop offset="28.51%" stop-color="#fba15b"/><stop offset="28.94%" stop-color="#fba15b"/><stop offset="29.21%" stop-color="#f7814c"/><stop offset="30.26%" stop-color="#f7814c"/><stop offset="30.53%" stop-color="#e64e35"/><stop offset="30.58%" stop-color="#e64e35"/><stop offset="30.85%" stop-color="#f67a49"/><stop offset="30.88%" stop-color="#f67a49"/><stop offset="31.15%" stop-color="#fdae61"/><stop offset="32.60%" stop-color="#fdae61"/><stop offset="32.87%" stop-color="#f46d43"/><stop offset="32.92%" stop-color="#f46d43"/><stop offset="33.19%" stop-color="#f8874f"/><stop offset="33.73%" stop-color="#f8874f"/><stop offset="34.00%" stop-color="#fdb86a"/><stop offset="34.63%" stop-color="#fdb86a"/><stop offset="34.89%" stop-color="#f8874f"/><stop offset="35.25%" stop-color="#f8874f"/><stop offset="35.52%" stop-color="#fec778"/><stop offset="35.63%" stop-color="#fec778"/><stop offset="35.90%" stop-color="#fef0a8"/><stop offset="36.96%" stop-color="#fef0a8"/><stop offset="37.23%" stop-color="#fdbd6f"/><stop offset="37.66%" stop-color="#fdbd6f"/><stop offset="37.92%" stop-color="#fed687"/><stop offset="38.28%" stop-color="#fed687"/><stop offset="38.55%" stop-color="#fba15b"/><stop offset="39.62%" stop-color="#fba15b"/><stop offset="39.88%" stop-color="#f46d43"/><stop offset="39.99%" stop-color="#f46d43"/><stop offset="40.26%" stop-color="#fdbd6f"/><stop offset="40.31%" stop-color="#fdbd6f"/><stop offset="40.58%" stop-color="#fee99e"/><stop offset="41.95%" stop-color="#fee99e"/><stop offset="42.22%" stop-color="#fdbd6f"/><stop offset="42.34%" stop-color="#fdbd6f"/><stop offset="42.60%" stop-color="#fef0a8"/><stop offset="42.65%" stop-color="#fef0a8"/><stop offset="42.91%" stop-color="#ecf8e1"/><stop offset="43.34%" stop-color="#ecf8e1"/><stop offset="43.61%" stop-color="#d0ebf4"/><stop offset="43.98%" stop-color="#d0ebf4"/><stop offset="44.24%" stop-color="#f0f9dc"/><stop offset="44.29%" stop-color="#f0f9dc"/><stop offset="44.55%" stop-color="#feeca3"/><stop offset="44.98%" stop-color="#feeca3"/><stop offset="45.25%" stop-color="#e0f3f8"/><stop offset="45.30%" stop-color="#e0f3f8"/><stop offset="45.57%" stop-color="#fff9b6"/><stop offset="47.01%" stop-color="#fff9b6"/><stop offset="47.28%" stop-color="#fee699"/><stop offset="47.33%" stop-color="#fee699"/><stop offset="47.59%" stop-color="#f0f9dc"/><stop offset="49.03%" stop-color="#f0f9dc"/><stop offset="49.30%" stop-color="#fee090"/><stop offset="49.35%" stop-color="#fee090"/><stop offset="49.62%" stop-color="#fef0a8"/><stop offset="49.66%" stop-color="#fef0a8"/><stop offset="49.93%" stop-color="#d5eef5"/><stop offset="49.98%" stop-color="#d5eef5"/><stop offset="50.25%" stop-color="#fef0a8"/><stop offset="50.67%" stop-color="#fef0a8"/><stop offset="50.94%" stop-color="#f0f9dc"/><stop offset="50.98%" stop-color="#f0f9dc"/><stop offset="51.25%" stop-color="#fff3ac"/><stop offset="51.36%" stop-color="#fff3ac"/><stop offset="51.63%" stop-color="#fed687"/><stop offset="51.68%" stop-color="#fed687"/><stop offset="51.94%" stop-color="#fff3ac"/><stop offset="52.01%" stop-color="#fff3ac"/><stop offset="52.27%" stop-color="#f6fbd0"/><stop offset="53.00%" stop-color="#f6fbd0"/><stop offset="53.27%" stop-color="#fef0a8"/><stop offset="53.39%" stop-color="#fef0a8"/><stop offset="53.65%" stop-color="#fdae61"/><stop offset="53.70%" stop-color="#fdae61"/><stop offset="53.97%" stop-color="#f8874f"/><stop offset="54.02%" stop-color="#f8874f"/><stop offset="54.29%" stop-color="#fdae61"/><stop offset="54.39%" stop-color="#fdae61"/><stop offset="54.66%" stop-color="#fed182"/><stop offset="55.04%" stop-color="#fed182"/><stop offset="55.30%" stop-color="#fdb86a"/><stop offset="55.72%" stop-color="#fdb86a"/><stop offset="55.99%" stop-color="#f67a49"/><stop offset="56.28%" stop-color="#f67a49"/><stop offset="56.55%" stop-color="#fecc7d"/><stop offset="57.37%" stop-color="#fecc7d"/><stop offset="57.64%" stop-color="#fdb86a"/><stop offset="58.07%" stop-color="#fdb86a"/><stop offset="58.33%" stop-color="#e64e35"/><stop offset="58.38%" stop-color="#e64e35"/><stop offset="58.65%" stop-color="#d73027"/><stop offset="58.69%" stop-color="#d73027"/><stop offset="58.96%" stop-color="#f46d43"/><stop offset="59.07%" stop-color="#f46d43"/><stop offset="59.34%" stop-color="#f99455"/><stop offset="59.39%" stop-color="#f99455"/><stop offset="59.66%" stop-color="#e64e35"/><stop offset="60.03%" stop-color="#e64e35"/><stop offset="60.29%" stop-color="#f99455"/><stop offset="60.72%" stop-color="#f99455"/><stop offset="60.99%" stop-color="#dd3c2d"/><stop offset="61.03%" stop-color="#dd3c2d"/><stop offset="61.30%" stop-color="#fec778"/><stop offset="61.35%" stop-color="#fec778"/><stop offset="61.62%" stop-color="#ffffbf"/><stop offset="62.05%" stop-color="#ffffbf"/><stop offset="62.32%" stop-color="#e9f7e7"/><stop offset="62.75%" stop-color="#e9f7e7"/><stop offset="63.01%" stop-color="#fff6b1"/><stop offset="63.37%" stop-color="#fff6b1"/><stop offset="63.64%" stop-color="#e9f7e7"/><stop offset="64.07%" stop-color="#e9f7e7"/><stop offset="64.34%" stop-color="#d0ebf4"/><stop offset="65.33%" stop-color="#d0ebf4"/><stop offset="65.60%" stop-color="#f0f9dc"/><stop offset="65.71%" stop-color="#f0f9dc"/><stop offset="65.98%" stop-color="#c6e6f0"/><stop offset="66.09%" stop-color="#c6e6f0"/><stop offset="66.35%" stop-color="#abd9e9"/><stop offset="67.60%" stop-color="#abd9e9"/><stop offset="67.87%" stop-color="#e9f7e7"/><stop offset="68.05%" stop-color="#e9f7e7"/><stop offset="68.32%" stop-color="#a0d0e4"/><stop offset="68.74%" stop-color="#a0d0e4"/><stop offset="69.01%" stop-color="#d5eef5"/><stop offset="69.38%" stop-color="#d5eef5"/><stop offset="69.64%" stop-color="#c0e3ef"/><stop offset="69.74%" stop-color="#c0e3ef"/><stop offset="70.01%" stop-color="#fef0a8"/><stop offset="70.07%" stop-color="#fef0a8"/><stop offset="70.34%" stop-color="#fdae61"/><stop offset="70.38%" stop-color="#fdae61"/><stop offset="70.65%" stop-color="#fed687"/><stop offset="70.77%" stop-color="#fed687"/><stop offset="71.03%" stop-color="#fff3ac"/><stop offset="71.08%" stop-color="#fff3ac"/><stop offset="71.35%" stop-color="#f6fbd0"/><stop offset="72.09%" stop-color="#f6fbd0"/><stop offset="72.36%" stop-color="#fee99e"/><stop offset="72.79%" stop-color="#fee99e"/><stop offset="73.06%" stop-color="#ffffbf"/><stop offset="73.41%" stop-color="#ffffbf"/><stop offset="73.68%" stop-color="#f9fdca"/><stop offset="74.43%" stop-color="#f9fdca"/><stop offset="74.70%" stop-color="#fef0a8"/><stop offset="74.73%" stop-color="#fef0a8"/><stop offset="75.00%" stop-color="#fee090"/><stop offset="75.45%" stop-color="#fee090"/><stop offset="75.71%" stop-color="#ecf8e1"/><stop offset="77.09%" stop-color="#ecf8e1"/><stop offset="77.35%" stop-color="#fee699"/><stop offset="77.41%" stop-color="#fee699"/><stop offset="77.67%" stop-color="#fff3ac"/><stop offset="77.78%" stop-color="#fff3ac"/><stop offset="78.05%" stop-color="#e6f5ed"/><stop offset="78.48%" stop-color="#e6f5ed"/><stop offset="78.74%" stop-color="#bbe1ee"/><stop offset="79.48%" stop-color="#bbe1ee"/><stop offset="79.75%" stop-color="#d5eef5"/><stop offset="79.80%" stop-color="#d5eef5"/><stop offset="80.07%" stop-color="#c0e3ef"/><stop offset="80.12%" stop-color="#c0e3ef"/><stop offset="80.38%" stop-color="#90c3dd"/><stop offset="81.13%" stop-color="#90c3dd"/><stop offset="81.40%" stop-color="#ffffbf"/><stop offset="81.44%" stop-color="#ffffbf"/><stop offset="81.71%" stop-color="#fef0a8"/><stop offset="81.83%" stop-color="#fef0a8"/><stop offset="82.09%" stop-color="#fecc7d"/><stop offset="82.13%" stop-color="#fecc7d"/><stop offset="82.40%" stop-color="#fff9b6"/><stop offset="83.85%" stop-color="#fff9b6"/><stop offset="84.12%" stop-color="#fef0a8"/><stop offset="84.15%" stop-color="#fef0a8"/><stop offset="84.42%" stop-color="#fba15b"/><stop offset="84.79%" stop-color="#fba15b"/><stop offset="85.05%" stop-color="#fff6b1"/><stop offset="85.48%" stop-color="#fff6b1"/><stop offset="85.75%" stop-color="#f9fdca"/><stop offset="85.78%" stop-color="#f9fdca"/><stop offset="86.05%" stop-color="#fff3ac"/><stop offset="86.18%" stop-color="#fff3ac"/><stop offset="86.44%" stop-color="#fee395"/><stop offset="86.81%" stop-color="#fee395"/><stop offset="87.08%" stop-color="#fef0a8"/><stop offset="87.12%" stop-color="#fef0a8"/><stop offset="87.39%" stop-color="#e9f7e7"/><stop offset="87.44%" stop-color="#e9f7e7"/><stop offset="87.71%" stop-color="#c0e3ef"/><stop offset="87.82%" stop-color="#c0e3ef"/><stop offset="88.08%" stop-color="#90c3dd"/><stop offset="88.45%" stop-color="#90c3dd"/><stop offset="88.72%" stop-color="#b6deec"/><stop offset="89.14%" stop-color="#b6deec"/><stop offset="89.41%" stop-color="#6ba2cb"/><stop offset="89.84%" stop-color="#6ba2cb"/><stop offset="90.11%" stop-color="#4e80ba"/><stop offset="90.47%" stop-color="#4e80ba"/><stop offset="90.74%" stop-color="#4575b4"/><stop offset="91.17%" stop-color="#4575b4"/><stop offset="91.43%" stop-color="#6ba2cb"/><stop offset="91.80%" stop-color="#6ba2cb"/><stop offset="92.07%" stop-color="#3b56a4"/><stop offset="92.17%" stop-color="#3b56a4"/><stop offset="92.44%" stop-color="#4168ae"/><stop offset="92.81%" stop-color="#4168ae"/><stop offset="93.07%" stop-color="#4575b4"/><stop offset="93.50%" stop-color="#4575b4"/><stop offset="93.77%" stop-color="#6ba2cb"/><stop offset="93.82%" stop-color="#6ba2cb"/><stop offset="94.09%" stop-color="#4e80ba"/><stop offset="94.14%" stop-color="#4e80ba"/><stop offset="94.40%" stop-color="#3b56a4"/><stop offset="94.83%" stop-color="#3b56a4"/><stop offset="95.10%" stop-color="#74add1"/><stop offset="95.53%" stop-color="#74add1"/><stop offset="95.79%" stop-color="#a0d0e4"/><stop offset="95.85%" stop-color="#a0d0e4"/><stop offset="96.11%" stop-color="#b6deec"/><stop offset="96.54%" stop-color="#b6deec"/><stop offset="96.81%" stop-color="#a0d0e4"/><stop offset="97.24%" stop-color="#a0d0e4"/><stop offset="97.50%" stop-color="#90c3dd"/><stop offset="97.87%" stop-color="#90c3dd"/><stop offset="98.14%" stop-color="#d5eef5"/><stop offset="98.17%" stop-color="#d5eef5"/><stop offset="98.44%" stop-color="#f6fbd0"/><stop offset="98.81%" stop-color="#f6fbd0"/><stop offset="99.08%" stop-color="#b6deec"/><stop offset="99.51%" stop-color="#b6deec"/><stop offset="99.78%" stop-color="#d0ebf4"/><stop offset="100.00%" stop-color="#d0ebf4"/></linearGradient>
<linearGradient id="g4" gradientUnits="userSpaceOnUse" x1="104" x2="1226" y1="0" y2="0"><stop offset="0.00%" stop-color="#eb5b3b"/><stop offset="0.85%" stop-color="#eb5b3b"/><stop offset="1.11%" stop-color="#dd3c2d"/><stop offset="1.83%" stop-color="#dd3c2d"/><stop offset="2.09%" stop-color="#be1826"/><stop offset="2.54%" stop-color="#be1826"/><stop offset="2.81%" stop-color="#d73027"/><stop offset="3.21%" stop-color="#d73027"/><stop offset="3.48%" stop-color="#c82227"/><stop offset="4.50%" stop-color="#c82227"/><stop offset="4.77%" stop-color="#b40e26"/><stop offset="7.13%" stop-color="#b40e26"/><stop offset="7.40%" stop-color="#cd2627"/><stop offset="8.51%" stop-color="#cd2627"/><stop offset="8.78%" stop-color="#bc1626"/><stop offset="11.50%" stop-color="#bc1626"/><stop offset="11.76%" stop-color="#a50026"/><stop offset="14.53%" stop-color="#a50026"/><stop offset="14.80%" stop-color="#b91326"/><stop offset="15.55%" stop-color="#b91326"/><stop offset="15.82%" stop-color="#c82227"/><stop offset="16.80%" stop-color="#c82227"/><stop offset="17.07%" stop-color="#cd2627"/><stop offset="17.31%" stop-color="#cd2627"/><stop offset="17.58%" stop-color="#be1826"/><stop offset="17.87%" stop-color="#be1826"/><stop offset="18.14%" stop-color="#cd2627"/><stop offset="18.89%" stop-color="#cd2627"/><stop offset="19.15%" stop-color="#eb5b3b"/><stop offset="22.61%" stop-color="#eb5b3b"/><stop offset="22.88%" stop-color="#e34832"/><stop offset="23.88%" stop-color="#e34832"/><stop offset="24.14%" stop-color="#f57446"/><stop offset="24.57%" stop-color="#f57446"/><stop offset="24.84%" stop-color="#dd3c2d"/><stop offset="25.65%" stop-color="#dd3c2d"/><stop offset="25.90%" stop-color="#c31d27"/><stop offset="25.90%" stop-color="#c31d27"/><stop offset="26.16%" stop-color="#dd3c2d"/><stop offset="26.22%" stop-color="#dd3c2d"/><stop offset="26.49%" stop-color="#f16740"/><stop offset="27.92%" stop-color="#f16740"/><stop offset="28.19%" stop-color="#e0422f"/><stop offset="28.24%" stop-color="#e0422f"/><stop offset="28.51%" stop-color="#fa9a58"/><stop offset="28.94%" stop-color="#fa9a58"/><stop offset="29.21%" stop-color="#f16740"/><stop offset="30.58%" stop-color="#f16740"/><stop offset="30.85%" stop-color="#f7814c"/><stop offset="32.22%" stop-color="#f7814c"/><stop offset="32.49%" stop-color="#ee613d"/><stop offset="33.24%" stop-color="#ee613d"/><stop offset="33.50%" stop-color="#f67a49"/><stop offset="33.56%" stop-color="#f67a49"/><stop offset="33.78%" stop-color="#fee090"/><stop offset="33.78%" stop-color="#fee090"/><stop offset="34.00%" stop-color="#fee090"/><stop offset="35.31%" stop-color="#fee090"/><stop offset="35.58%" stop-color="#fef0a8"/><stop offset="35.63%" stop-color="#fef0a8"/><stop offset="35.90%" stop-color="#e0f3f8"/><stop offset="36.96%" stop-color="#e0f3f8"/><stop offset="37.23%" stop-color="#fef0a8"/><stop offset="37.66%" stop-color="#fef0a8"/><stop offset="37.92%" stop-color="#f9fdca"/><stop offset="38.28%" stop-color="#f9fdca"/><stop offset="38.55%" stop-color="#fff9b6"/><stop offset="38.98%" stop-color="#fff9b6"/><stop offset="39.25%" stop-color="#ecf8e1"/><stop offset="39.30%" stop-color="#ecf8e1"/><stop offset="39.56%" stop-color="#fee699"/><stop offset="39.99%" stop-color="#fee699"/><stop offset="40.26%" stop-color="#ffffbf"/><stop offset="40.31%" stop-color="#ffffbf"/><stop offset="40.58%" stop-color="#d5eef5"/><stop offset="40.62%" stop-color="#d5eef5"/><stop offset="40.89%" stop-color="#b6deec"/><stop offset="42.34%" stop-color="#b6deec"/><stop offset="42.60%" stop-color="#74add1"/><stop offset="42.65%" stop-color="#74add1"/><stop offset="42.91%" stop-color="#4575b4"/><stop offset="43.03%" stop-color="#4575b4"/><stop offset="43.30%" stop-color="#313695"/><stop offset="43.65%" stop-color="#313695"/><stop offset="43.92%" stop-color="#4e80ba"/><stop offset="44.29%" stop-color="#4e80ba"/><stop offset="44.55%" stop-color="#74add1"/><stop offset="44.98%" stop-color="#74add1"/><stop offset="45.25%" stop-color="#5c91c2"/><stop offset="46.00%" stop-color="#5c91c2"/><stop offset="46.27%" stop-color="#7fb6d6"/><stop offset="46.31%" stop-color="#7fb6d6"/><stop offset="46.58%" stop-color="#c6e6f0"/><stop offset="46.63%" stop-color="#c6e6f0"/><stop offset="46.90%" stop-color="#e6f5ed"/><stop offset="47.01%" stop-color="#e6f5ed"/><stop offset="47.28%" stop-color="#a0d0e4"/><stop offset="47.33%" stop-color="#a0d0e4"/><stop offset="47.59%" stop-color="#84bad8"/><stop offset="48.65%" stop-color="#84bad8"/><stop offset="48.92%" stop-color="#f0f9dc"/><stop offset="49.03%" stop-color="#f0f9dc"/><stop offset="49.30%" stop-color="#fec778"/><stop offset="49.35%" stop-color="#fec778"/><stop offset="49.62%" stop-color="#fee699"/><stop offset="49.66%" stop-color="#fee699"/><stop offset="49.93%" stop-color="#f9fdca"/><stop offset="49.98%" stop-color="#f9fdca"/><stop offset="50.25%" stop-color="#fee699"/><stop offset="50.29%" stop-color="#fee699"/><stop offset="50.56%" stop-color="#fed687"/><stop offset="50.67%" stop-color="#fed687"/><stop offset="50.94%" stop-color="#fec778"/><stop offset="50.98%" stop-color="#fec778"/><stop offset="51.25%" stop-color="#f8874f"/><stop offset="51.68%" stop-color="#f8874f"/><stop offset="51.94%" stop-color="#fee090"/><stop offset="52.01%" stop-color="#fee090"/><stop offset="52.27%" stop-color="#d5eef5"/><stop offset="53.00%" stop-color="#d5eef5"/><stop offset="53.27%" stop-color="#ffffbf"/><stop offset="53.39%" stop-color="#ffffbf"/><stop offset="53.65%" stop-color="#f88e52"/><stop offset="54.02%" stop-color="#f88e52"/><stop offset="54.29%" stop-color="#fdae61"/><stop offset="54.39%" stop-color="#fdae61"/><stop offset="54.66%" stop-color="#fff9b6"/><stop offset="54.71%" stop-color="#fff9b6"/><stop offset="54.98%" stop-color="#ecf8e1"/><stop offset="55.98%" stop-color="#ecf8e1"/><stop offset="56.25%" stop-color="#fee699"/><stop offset="56.35%" stop-color="#fee699"/><stop offset="56.62%" stop-color="#fff3ac"/><stop offset="57.00%" stop-color="#fff3ac"/><stop offset="57.26%" stop-color="#e0f3f8"/><stop offset="58.07%" stop-color="#e0f3f8"/><stop offset="58.33%" stop-color="#fff6b1"/><stop offset="58.38%" stop-color="#fff6b1"/><stop offset="58.65%" stop-color="#fee090"/><stop offset="58.69%" stop-color="#fee090"/><stop offset="58.96%" stop-color="#fff6b1"/><stop offset="59.07%" stop-color="#fff6b1"/><stop offset="59.34%" stop-color="#dbf0f6"/><stop offset="60.09%" stop-color="#dbf0f6"/><stop offset="60.36%" stop-color="#abd9e9"/><stop offset="61.03%" stop-color="#abd9e9"/><stop offset="61.30%" stop-color="#5c91c2"/><stop offset="61.67%" stop-color="#5c91c2"/><stop offset="61.93%" stop-color="#6ba2cb"/><stop offset="62.05%" stop-color="#6ba2cb"/><stop offset="62.32%" stop-color="#4575b4"/><stop offset="62.43%" stop-color="#4575b4"/><stop offset="62.70%" stop-color="#6ba2cb"/><stop offset="62.75%" stop-color="#6ba2cb"/><stop offset="63.01%" stop-color="#9acce2"/><stop offset="64.39%" stop-color="#9acce2"/><stop offset="64.66%" stop-color="#e0f3f8"/><stop offset="64.70%" stop-color="#e0f3f8"/><stop offset="64.96%" stop-color="#f0f9dc"/><stop offset="65.08%" stop-color="#f0f9dc"/><stop offset="65.35%" stop-color="#fee699"/><stop offset="65.39%" stop-color="#fee699"/><stop offset="65.66%" stop-color="#fdbd6f"/><stop offset="65.71%" stop-color="#fdbd6f"/><stop offset="65.98%" stop-color="#fee090"/><stop offset="66.09%" stop-color="#fee090"/><stop offset="66.35%" stop-color="#fff6b1"/><stop offset="67.10%" stop-color="#fff6b1"/><stop offset="67.37%" stop-color="#fec778"/><stop offset="67.60%" stop-color="#fec778"/><stop offset="67.87%" stop-color="#fba15b"/><stop offset="68.05%" stop-color="#fba15b"/><stop offset="68.32%" stop-color="#fdb86a"/><stop offset="68.42%" stop-color="#fdb86a"/><stop offset="68.69%" stop-color="#fed182"/><stop offset="69.74%" stop-color="#fed182"/><stop offset="70.01%" stop-color="#fdae61"/><stop offset="70.07%" stop-color="#fdae61"/><stop offset="70.34%" stop-color="#b40e26"/><stop offset="70.38%" stop-color="#b40e26"/><stop offset="70.65%" stop-color="#d73027"/><stop offset="70.77%" stop-color="#d73027"/><stop offset="71.03%" stop-color="#dd3c2d"/><stop offset="71.08%" stop-color="#dd3c2d"/><stop offset="71.35%" stop-color="#b40e26"/><stop offset="71.77%" stop-color="#b40e26"/><stop offset="72.04%" stop-color="#a50026"/><stop offset="72.79%" stop-color="#a50026"/><stop offset="73.06%" stop-color="#c82227"/><stop offset="73.41%" stop-color="#c82227"/><stop offset="73.68%" stop-color="#e64e35"/><stop offset="74.43%" stop-color="#e64e35"/><stop offset="74.70%" stop-color="#f16740"/><stop offset="75.12%" stop-color="#f16740"/><stop offset="75.39%" stop-color="#f88e52"/><stop offset="75.45%" stop-color="#f88e52"/><stop offset="75.71%" stop-color="#fed687"/><stop offset="76.83%" stop-color="#fed687"/><stop offset="77.09%" stop-color="#fdb86a"/><stop offset="77.41%" stop-color="#fdb86a"/><stop offset="77.67%" stop-color="#fec778"/><stop offset="77.72%" stop-color="#fec778"/><stop offset="77.99%" stop-color="#fee090"/><stop offset="79.17%" stop-color="#fee090"/><stop offset="79.44%" stop-color="#fec778"/><stop offset="79.48%" stop-color="#fec778"/><stop offset="79.75%" stop-color="#fdae61"/><stop offset="80.12%" stop-color="#fdae61"/><stop offset="80.38%" stop-color="#fee090"/><stop offset="82.77%" stop-color="#fee090"/><stop offset="83.04%" stop-color="#f0f9dc"/><stop offset="83.53%" stop-color="#f0f9dc"/><stop offset="83.80%" stop-color="#fff9b6"/><stop offset="83.85%" stop-color="#fff9b6"/><stop offset="84.12%" stop-color="#fed687"/><stop offset="85.48%" stop-color="#fed687"/><stop offset="85.75%" stop-color="#fecc7d"/><stop offset="86.18%" stop-color="#fecc7d"/><stop offset="86.44%" stop-color="#fdb366"/><stop offset="86.81%" stop-color="#fdb366"/><stop offset="87.08%" stop-color="#fdc274"/><stop offset="87.12%" stop-color="#fdc274"/><stop offset="87.39%" stop-color="#fee090"/><stop offset="87.82%" stop-color="#fee090"/><stop offset="88.08%" stop-color="#feeca3"/><stop offset="88.14%" stop-color="#feeca3"/><stop offset="88.40%" stop-color="#fff9b6"/><stop offset="88.51%" stop-color="#fff9b6"/><stop offset="88.78%" stop-color="#fef0a8"/><stop offset="89.14%" stop-color="#fef0a8"/><stop offset="89.41%" stop-color="#f0f9dc"/><stop offset="89.46%" stop-color="#f0f9dc"/><stop offset="89.72%" stop-color="#c6e6f0"/><stop offset="89.84%" stop-color="#c6e6f0"/><stop offset="90.11%" stop-color="#7fb6d6"/><stop offset="91.49%" stop-color="#7fb6d6"/><stop offset="91.76%" stop-color="#74add1"/><stop offset="91.86%" stop-color="#74add1"/><stop offset="92.13%" stop-color="#6197c5"/><stop offset="93.13%" stop-color="#6197c5"/><stop offset="93.40%" stop-color="#90c3dd"/><stop offset="93.82%" stop-color="#90c3dd"/><stop offset="94.09%" stop-color="#74add1"/><stop offset="94.14%" stop-color="#74add1"/><stop offset="94.40%" stop-color="#5c91c2"/><stop offset="95.53%" stop-color="#5c91c2"/><stop offset="95.79%" stop-color="#84bad8"/><stop offset="96.16%" stop-color="#84bad8"/><stop offset="96.43%" stop-color="#6ba2cb"/><stop offset="97.87%" stop-color="#6ba2cb"/><stop offset="98.14%" stop-color="#90c3dd"/><stop offset="98.17%" stop-color="#90c3dd"/><stop offset="98.44%" stop-color="#b6deec"/><stop offset="98.81%" stop-color="#b6deec"/><stop offset="99.08%" stop-color="#95c7df"/><stop offset="99.20%" stop-color="#95c7df"/><stop offset="99.47%" stop-color="#abd9e9"/><stop offset="100.00%" stop-color="#abd9e9"/></linearGradient>
<linearGradient id="g5" gradientUnits="userSpaceOnUse" x1="104" x2="1226" y1="0" y2="0"><stop offset="0.00%" stop-color="#da362a"/><stop offset="0.85%" stop-color="#da362a"/><stop offset="1.11%" stop-color="#c82227"/><stop offset="1.20%" stop-color="#c82227"/><stop offset="1.47%" stop-color="#b91326"/><stop offset="2.54%" stop-color="#b91326"/><stop offset="2.81%" stop-color="#d73027"/><stop offset="3.48%" stop-color="#d73027"/><stop offset="3.74%" stop-color="#e64e35"/><stop offset="4.50%" stop-color="#e64e35"/><stop offset="4.77%" stop-color="#da362a"/><stop offset="4.86%" stop-color="#da362a"/><stop offset="5.12%" stop-color="#e34832"/><stop offset="5.44%" stop-color="#e34832"/><stop offset="5.70%" stop-color="#da362a"/><stop offset="7.13%" stop-color="#da362a"/><stop offset="7.40%" stop-color="#e34832"/><stop offset="9.22%" stop-color="#e34832"/><stop offset="9.49%" stop-color="#d73027"/><stop offset="11.23%" stop-color="#d73027"/><stop offset="11.50%" stop-color="#be1826"/><stop offset="11.54%" stop-color="#be1826"/><stop offset="11.81%" stop-color="#a50026"/><stop offset="14.53%" stop-color="#a50026"/><stop offset="14.80%" stop-color="#c31d27"/><stop offset="16.80%" stop-color="#c31d27"/><stop offset="17.07%" stop-color="#dd3c2d"/><stop offset="18.44%" stop-color="#dd3c2d"/><stop offset="18.71%" stop-color="#c82227"/><stop offset="19.14%" stop-color="#c82227"/><stop offset="19.40%" stop-color="#e0422f"/><stop offset="23.63%" stop-color="#e0422f"/><stop offset="23.89%" stop-color="#e85538"/><stop offset="24.57%" stop-color="#e85538"/><stop offset="24.84%" stop-color="#d22b27"/><stop offset="25.65%" stop-color="#d22b27"/><stop offset="25.92%" stop-color="#b91326"/><stop offset="27.55%" stop-color="#b91326"/><stop offset="27.82%" stop-color="#a50026"/><stop offset="28.24%" stop-color="#a50026"/><stop offset="28.51%" stop-color="#dd3c2d"/><stop offset="30.26%" stop-color="#dd3c2d"/><stop offset="30.53%" stop-color="#c82227"/><stop offset="30.58%" stop-color="#c82227"/><stop offset="30.85%" stop-color="#e34832"/><stop offset="31.21%" stop-color="#e34832"/><stop offset="31.48%" stop-color="#f46d43"/><stop offset="32.22%" stop-color="#f46d43"/><stop offset="32.49%" stop-color="#e34832"/><stop offset="33.24%" stop-color="#e34832"/><stop offset="33.50%" stop-color="#f88e52"/><stop offset="33.73%" stop-color="#f88e52"/><stop offset="34.00%" stop-color="#fdae61"/><stop offset="34.63%" stop-color="#fdae61"/><stop offset="34.89%" stop-color="#f88e52"/><stop offset="35.25%" stop-color="#f88e52"/><stop offset="35.52%" stop-color="#fdae61"/><stop offset="35.63%" stop-color="#fdae61"/><stop offset="35.90%" stop-color="#fec778"/><stop offset="36.96%" stop-color="#fec778"/><stop offset="37.23%" stop-color="#fdae61"/><stop offset="37.27%" stop-color="#fdae61"/><stop offset="37.54%" stop-color="#f88e52"/><stop offset="37.66%" stop-color="#f88e52"/><stop offset="37.92%" stop-color="#fec778"/><stop offset="38.28%" stop-color="#fec778"/><stop offset="38.55%" stop-color="#fdae61"/><stop offset="38.60%" stop-color="#fdae61"/><stop offset="38.87%" stop-color="#fed687"/><stop offset="39.99%" stop-color="#fed687"/><stop offset="40.26%" stop-color="#fef0a8"/><stop offset="40.31%" stop-color="#fef0a8"/><stop offset="40.58%" stop-color="#d5eef5"/><stop offset="40.62%" stop-color="#d5eef5"/><stop offset="40.89%" stop-color="#a0d0e4"/><stop offset="41.95%" stop-color="#a0d0e4"/><stop offset="42.22%" stop-color="#b6deec"/><stop offset="42.34%" stop-color="#b6deec"/><stop offset="42.60%" stop-color="#3f62ab"/><stop offset="42.65%" stop-color="#3f62ab"/><stop offset="42.91%" stop-color="#313695"/><stop offset="43.65%" stop-color="#313695"/><stop offset="43.92%" stop-color="#3b56a4"/><stop offset="43.98%" stop-color="#3b56a4"/><stop offset="44.24%" stop-color="#5c91c2"/><stop offset="44.29%" stop-color="#5c91c2"/><stop offset="44.55%" stop-color="#90c3dd"/><stop offset="44.67%" stop-color="#90c3dd"/><stop offset="44.94%" stop-color="#6ba2cb"/><stop offset="44.98%" stop-color="#6ba2cb"/><stop offset="45.25%" stop-color="#4575b4"/><stop offset="46.00%" stop-color="#4575b4"/><stop offset="46.27%" stop-color="#3d5ca8"/><stop offset="46.31%" stop-color="#3d5ca8"/><stop offset="46.58%" stop-color="#6ba2cb"/><stop offset="46.63%" stop-color="#6ba2cb"/><stop offset="46.90%" stop-color="#90c3dd"/><stop offset="47.01%" stop-color="#90c3dd"/><stop offset="47.28%" stop-color="#4168ae"/><stop offset="47.33%" stop-color="#4168ae"/><stop offset="47.59%" stop-color="#313695"/><stop offset="48.02%" stop-color="#313695"/><stop offset="48.29%" stop-color="#3b56a4"/><stop offset="48.65%" stop-color="#3b56a4"/><stop offset="48.92%" stop-color="#5c91c2"/><stop offset="49.03%" stop-color="#5c91c2"/><stop offset="49.30%" stop-color="#b6deec"/><stop offset="49.66%" stop-color="#b6deec"/><stop offset="49.93%" stop-color="#6ba2cb"/><stop offset="50.29%" stop-color="#6ba2cb"/><stop offset="50.56%" stop-color="#90c3dd"/><stop offset="50.67%" stop-color="#90c3dd"/><stop offset="50.94%" stop-color="#90c3dd"/><stop offset="50.98%" stop-color="#90c3dd"/><stop offset="51.25%" stop-color="#b6deec"/><stop offset="51.68%" stop-color="#b6deec"/><stop offset="51.94%" stop-color="#9acce2"/><stop offset="52.01%" stop-color="#9acce2"/><stop offset="52.27%" stop-color="#74add1"/><stop offset="52.69%" stop-color="#74add1"/><stop offset="52.96%" stop-color="#90c3dd"/><stop offset="53.00%" stop-color="#90c3dd"/><stop offset="53.27%" stop-color="#d5eef5"/><stop offset="53.39%" stop-color="#d5eef5"/><stop offset="53.65%" stop-color="#fee699"/><stop offset="53.70%" stop-color="#fee699"/><stop offset="53.97%" stop-color="#fecc7d"/><stop offset="54.02%" stop-color="#fecc7d"/><stop offset="54.29%" stop-color="#fee699"/><stop offset="54.39%" stop-color="#fee699"/><stop offset="54.66%" stop-color="#fff9b6"/><stop offset="54.71%" stop-color="#fff9b6"/><stop offset="54.98%" stop-color="#f0f9dc"/><stop offset="55.72%" stop-color="#f0f9dc"/><stop offset="55.99%" stop-color="#fff9b6"/><stop offset="56.04%" stop-color="#fff9b6"/><stop offset="56.31%" stop-color="#fee090"/><stop offset="56.35%" stop-color="#fee090"/><stop offset="56.62%" stop-color="#f9fdca"/><stop offset="56.68%" stop-color="#f9fdca"/><stop offset="56.94%" stop-color="#e0f3f8"/><stop offset="57.37%" stop-color="#e0f3f8"/><stop offset="57.64%" stop-color="#f9fdca"/><stop offset="58.07%" stop-color="#f9fdca"/><stop offset="58.33%" stop-color="#fee699"/><stop offset="58.38%" stop-color="#fee699"/><stop offset="58.65%" stop-color="#fdbd6f"/><stop offset="59.07%" stop-color="#fdbd6f"/><stop offset="59.34%" stop-color="#fee699"/><stop offset="60.09%" stop-color="#fee699"/><stop offset="60.36%" stop-color="#d5eef5"/><stop offset="60.72%" stop-color="#d5eef5"/><stop offset="60.99%" stop-color="#fff9b6"/><stop offset="61.03%" stop-color="#fff9b6"/><stop offset="61.30%" stop-color="#4e80ba"/><stop offset="61.42%" stop-color="#4e80ba"/><stop offset="61.68%" stop-color="#3d5ca8"/><stop offset="62.43%" stop-color="#3d5ca8"/><stop offset="62.70%" stop-color="#37499e"/><stop offset="63.31%" stop-color="#37499e"/><stop offset="63.57%" stop-color="#313695"/><stop offset="65.08%" stop-color="#313695"/><stop offset="65.35%" stop-color="#4575b4"/><stop offset="65.39%" stop-color="#4575b4"/><stop offset="65.66%" stop-color="#5c91c2"/><stop offset="66.09%" stop-color="#5c91c2"/><stop offset="66.35%" stop-color="#4168ae"/><stop offset="66.41%" stop-color="#4168ae"/><stop offset="66.68%" stop-color="#5386bd"/><stop offset="67.60%" stop-color="#5386bd"/><stop offset="67.87%" stop-color="#a0d0e4"/><stop offset="68.05%" stop-color="#a0d0e4"/><stop offset="68.32%" stop-color="#7fb6d6"/><stop offset="68.42%" stop-color="#7fb6d6"/><stop offset="68.69%" stop-color="#4e80ba"/><stop offset="68.74%" stop-color="#4e80ba"/><stop offset="69.01%" stop-color="#669cc8"/><stop offset="69.74%" stop-color="#669cc8"/><stop offset="70.01%" stop-color="#abd9e9"/><stop offset="70.07%" stop-color="#abd9e9"/><stop offset="70.34%" stop-color="#ffffbf"/><stop offset="71.08%" stop-color="#ffffbf"/><stop offset="71.35%" stop-color="#fdb86a"/><stop offset="71.77%" stop-color="#fdb86a"/><stop offset="72.04%" stop-color="#fba15b"/><stop offset="72.09%" stop-color="#fba15b"/><stop offset="72.36%" stop-color="#dd3c2d"/><stop offset="72.42%" stop-color="#dd3c2d"/><stop offset="72.68%" stop-color="#b91326"/><stop offset="73.10%" stop-color="#b91326"/><stop offset="73.37%" stop-color="#d22b27"/><stop offset="73.73%" stop-color="#d22b27"/><stop offset="74.00%" stop-color="#c31d27"/><stop offset="74.43%" stop-color="#c31d27"/><stop offset="74.70%" stop-color="#a50026"/><stop offset="75.06%" stop-color="#a50026"/><stop offset="75.33%" stop-color="#da362a"/><stop offset="77.41%" stop-color="#da362a"/><stop offset="77.67%" stop-color="#e34832"/><stop offset="77.72%" stop-color="#e34832"/><stop offset="77.99%" stop-color="#f16740"/><stop offset="79.17%" stop-color="#f16740"/><stop offset="79.44%" stop-color="#da362a"/><stop offset="79.48%" stop-color="#da362a"/><stop offset="79.75%" stop-color="#e34832"/><stop offset="80.50%" stop-color="#e34832"/><stop offset="80.77%" stop-color="#da362a"/><stop offset="81.51%" stop-color="#da362a"/><stop offset="81.77%" stop-color="#cd2627"/><stop offset="81.83%" stop-color="#cd2627"/><stop offset="82.09%" stop-color="#b91326"/><stop offset="82.13%" stop-color="#b91326"/><stop offset="82.40%" stop-color="#da362a"/><stop offset="82.46%" stop-color="#da362a"/><stop offset="82.73%" stop-color="#e85538"/><stop offset="84.15%" stop-color="#e85538"/><stop offset="84.42%" stop-color="#d73027"/><stop offset="84.47%" stop-color="#d73027"/><stop offset="84.73%" stop-color="#e64e35"/><stop offset="86.18%" stop-color="#e64e35"/><stop offset="86.44%" stop-color="#dd3c2d"/><stop offset="86.50%" stop-color="#dd3c2d"/><stop offset="86.76%" stop-color="#d22b27"/><stop offset="86.81%" stop-color="#d22b27"/><stop offset="87.08%" stop-color="#e64e35"/><stop offset="87.44%" stop-color="#e64e35"/><stop offset="87.71%" stop-color="#fdae61"/><stop offset="88.14%" stop-color="#fdae61"/><stop offset="88.40%" stop-color="#fed687"/><stop offset="89.14%" stop-color="#fed687"/><stop offset="89.41%" stop-color="#fff9b6"/><stop offset="89.46%" stop-color="#fff9b6"/><stop offset="89.72%" stop-color="#e9f7e7"/><stop offset="90.15%" stop-color="#e9f7e7"/><stop offset="90.42%" stop-color="#c6e6f0"/><stop offset="91.17%" stop-color="#c6e6f0"/><stop offset="91.43%" stop-color="#e0f3f8"/><stop offset="91.80%" stop-color="#e0f3f8"/><stop offset="92.07%" stop-color="#a0d0e4"/><stop offset="92.17%" stop-color="#a0d0e4"/><stop offset="92.44%" stop-color="#74add1"/><stop offset="93.13%" stop-color="#74add1"/><stop offset="93.40%" stop-color="#90c3dd"/><stop offset="94.14%" stop-color="#90c3dd"/><stop offset="94.40%" stop-color="#74add1"/><stop offset="94.83%" stop-color="#74add1"/><stop offset="95.10%" stop-color="#5c91c2"/><stop offset="95.53%" stop-color="#5c91c2"/><stop offset="95.79%" stop-color="#7fb6d6"/><stop offset="96.16%" stop-color="#7fb6d6"/><stop offset="96.43%" stop-color="#6ba2cb"/><stop offset="96.54%" stop-color="#6ba2cb"/><stop offset="96.81%" stop-color="#4e80ba"/><stop offset="96.85%" stop-color="#4e80ba"/><stop offset="97.12%" stop-color="#6ba2cb"/><stop offset="97.17%" stop-color="#6ba2cb"/><stop offset="97.44%" stop-color="#4e80ba"/><stop offset="97.55%" stop-color="#4e80ba"/><stop offset="97.82%" stop-color="#84bad8"/><stop offset="98.17%" stop-color="#84bad8"/><stop offset="98.44%" stop-color="#e0f3f8"/><stop offset="98.81%" stop-color="#e0f3f8"/><stop offset="99.08%" stop-color="#a0d0e4"/><stop offset="99.20%" stop-color="#a0d0e4"/><stop offset="99.47%" stop-color="#74add1"/><stop offset="100.00%" stop-color="#74add1"/></linearGradient>
<linearGradient id="cb" x1="0" x2="0" y1="1" y2="0"><stop offset="0%" stop-color="#a50026"/><stop offset="10%" stop-color="#d73027"/><stop offset="20%" stop-color="#f46d43"/><stop offset="30%" stop-color="#fdae61"/><stop offset="40%" stop-color="#fee090"/><stop offset="50%" stop-color="#ffffbf"/><stop offset="60%" stop-color="#e0f3f8"/><stop offset="70%" stop-color="#abd9e9"/><stop offset="80%" stop-color="#74add1"/><stop offset="90%" stop-color="#4575b4"/><stop offset="100%" stop-color="#313695"/></linearGradient>
</defs>
<rect x="103.3" y="125.650" width="1122.7" height="27.325" fill="url(#g0)"/>
<rect x="103.3" y="152.375" width="1122.7" height="27.325" fill="url(#g1)"/>
<rect x="103.3" y="179.100" width="1122.7" height="27.325" fill="url(#g2)"/>
<rect x="103.3" y="205.825" width="1122.7" height="27.325" fill="url(#g3)"/>
<rect x="103.3" y="232.550" width="1122.7" height="27.325" fill="url(#g4)"/>
<rect x="103.3" y="259.275" width="1122.7" height="26.725" fill="url(#g5)"/>
<rect x="1257.85" y="134.5" width="26.95" height="358.9" fill="url(#cb)"/>
<rect x="103.5" y="342.25" width="1122.5" height="160.05" fill="#e5ecf6"/>
<g stroke="#fff" stroke-width="1.4" opacity="0.8">
<path d="M180.5,342.25V502.3"/>
<path d="M285.7,342.25V502.3"/>
<path d="M402.1,342.25V502.3"/>
<path d="M514.7,342.25V502.3"/>
<path d="M630.9,342.25V502.3"/>
<path d="M743.6,342.25V502.3"/>
<path d="M860.1,342.25V502.3"/>
<path d="M976.5,342.25V502.3"/>
<path d="M1089.0,342.25V502.3"/>
<path d="M1205.5,342.25V502.3"/>
<path d="M103.5,364.4H1226"/>
<path d="M103.5,394.15H1226"/>
<path d="M103.5,423.9H1226"/>
<path d="M103.5,453.65H1226"/>
<path d="M103.5,483.4H1226"/>
</g>
</svg>
<svg class="abs" style="left:0;top:0" width="1340" height="573"><g transform="translate(0,445.8)" fill="none" stroke="#808080" opacity="0.19" stroke-width="7.5"><circle cx="515.1" cy="-18.9" r="15.149999999999999"/><path d="M530.75,-37.8 V-3 C530.75,8 524.75,11.6 515.1,11.6 C508.1,11.6 504.1,9 501.6,5"/><path d="M547.25,-50.4 V0"/><circle cx="577.1" cy="-18.9" r="15.149999999999999"/><path d="M592.75,-37.8 V0"/><path d="M625.9499999999999,-28.5 C624.4499999999999,-32.5 620.5,-34.05 616.5,-34.05 C609.55,-34.05 607.05,-30 607.05,-27 C607.05,-16 626.4499999999999,-22 626.4499999999999,-10.8 C626.4499999999999,-7 621.5,-3.75 616.5,-3.75 C611.5,-3.75 607.55,-6 606.05,-11"/><path d="M656.35,-28.5 C654.85,-32.5 650.9000000000001,-34.05 646.9000000000001,-34.05 C639.95,-34.05 637.45,-30 637.45,-27 C637.45,-16 656.85,-22 656.85,-10.8 C656.85,-7 651.9000000000001,-3.75 646.9000000000001,-3.75 C641.9000000000001,-3.75 637.95,-6 636.45,-11"/><path d="M671.5,-37.8 V0"/><path d="M671.5,-21 C671.5,-29 676.5,-34.05 684.3,-34.05 C692.1,-34.05 697.1,-29 697.1,-21 V0"/><ellipse cx="726" cy="-18.9" rx="16.2" ry="15.149999999999999"/><circle cx="767.9" cy="-18.9" r="15.149999999999999"/><path d="M784.55,-50.4 V0"/><path d="M798.0500000000001,-18.9 H828.35 A15.149999999999999,15.149999999999999 0 1 0 825.32,-9.507"/></g></svg>
<svg class="abs" style="left:0;top:0" width="1340" height="573"><g transform="translate(0,220.3)" fill="none" stroke="#808080" opacity="0.16" stroke-width="7.5"><circle cx="515.1" cy="-18.9" r="15.149999999999999"/><path d="M530.75,-37.8 V-3 C530.75,8 524.75,11.6 515.1,11.6 C508.1,11.6 504.1,9 501.6,5"/><path d="M547.25,-50.4 V0"/><circle cx="577.1" cy="-18.9" r="15.149999999999999"/><path d="M592.75,-37.8 V0"/><path d="M625.9499999999999,-28.5 C624.4499999999999,-32.5 620.5,-34.05 616.5,-34.05 C609.55,-34.05 607.05,-30 607.05,-27 C607.05,-16 626.4499999999999,-22 626.4499999999999,-10.8 C626.4499999999999,-7 621.5,-3.75 616.5,-3.75 C611.5,-3.75 607.55,-6 606.05,-11"/><path d="M656.35,-28.5 C654.85,-32.5 650.9000000000001,-34.05 646.9000000000001,-34.05 C639.95,-34.05 637.45,-30 637.45,-27 C637.45,-16 656.85,-22 656.85,-10.8 C656.85,-7 651.9000000000001,-3.75 646.9000000000001,-3.75 C641.9000000000001,-3.75 637.95,-6 636.45,-11"/><path d="M671.5,-37.8 V0"/><path d="M671.5,-21 C671.5,-29 676.5,-34.05 684.3,-34.05 C692.1,-34.05 697.1,-29 697.1,-21 V0"/><ellipse cx="726" cy="-18.9" rx="16.2" ry="15.149999999999999"/><circle cx="767.9" cy="-18.9" r="15.149999999999999"/><path d="M784.55,-50.4 V0"/><path d="M798.0500000000001,-18.9 H828.35 A15.149999999999999,15.149999999999999 0 1 0 825.32,-9.507"/></g></svg>
<svg class="abs" style="left:0;top:0" width="1340" height="573"><path d="M105.34,440.43 L108.90,440.72 L112.76,433.90 L116.61,423.22 L120.17,424.11 L124.03,411.06 L127.89,410.46 L131.74,418.77 L135.60,417.29 L139.16,406.01 L143.02,412.24 L146.87,411.95 L150.43,410.17 L154.29,409.57 L158.15,416.10 L161.71,418.18 L165.56,420.55 L169.42,412.54 L172.98,408.98 L176.84,416.69 L180.69,422.03 L184.25,430.93 L187.81,419.96 L191.67,430.34 L195.53,433.90 L199.38,434.49 L202.94,434.49 L206.80,434.20 L210.66,434.49 L214.22,431.53 L218.07,436.87 L221.63,430.04 L225.49,433.90 L229.34,431.23 L232.90,430.93 L236.76,435.09 L240.62,436.27 L244.47,436.87 L248.03,433.90 L251.59,428.56 L255.45,435.38 L259.31,433.90 L262.87,434.79 L266.72,449.62 L270.58,459.11 L274.44,470.98 L278.00,469.50 L281.85,470.39 L285.71,465.05 L289.27,441.02 L293.13,464.16 L296.69,461.49 L300.54,451.70 L304.40,453.78 L307.96,462.97 L311.52,464.16 L315.67,480.77 L319.23,486.70 L323.09,474.54 L326.95,472.46 L330.51,479.58 L334.36,471.57 L337.92,470.68 L342.08,475.43 L345.64,470.98 L349.49,474.84 L353.05,463.56 L356.91,470.98 L360.77,471.28 L364.33,471.87 L368.18,465.64 L372.04,460.89 L375.60,461.19 L379.46,462.67 L383.31,461.78 L386.87,470.09 L390.73,475.13 L394.59,476.02 L398.15,475.43 L402.00,468.31 L405.86,475.43 L409.72,473.35 L413.28,471.87 L416.84,472.76 L420.69,488.19 L424.55,486.11 L428.11,493.82 L431.97,476.02 L435.53,483.74 L439.38,473.06 L443.24,467.42 L446.80,472.17 L450.66,469.79 L454.51,472.46 L458.37,471.28 L461.93,468.61 L465.78,470.09 L469.64,468.31 L473.20,467.72 L476.76,460.89 L480.62,443.10 L484.47,442.21 L488.33,441.32 L491.89,439.54 L495.75,439.83 L499.60,442.50 L503.16,438.65 L507.02,440.72 L510.58,441.02 L514.44,433.90 L518.00,432.71 L521.85,435.98 L525.71,440.43 L529.27,439.54 L533.13,433.31 L536.98,432.42 L540.54,414.62 L544.40,414.91 L548.26,409.28 L551.82,411.65 L555.67,415.51 L559.53,411.65 L563.09,413.43 L566.95,412.54 L570.80,413.43 L574.36,414.32 L578.22,404.23 L582.67,407.20 L586.23,402.75 L589.79,394.74 L593.35,389.40 L597.21,401.86 L600.77,400.67 L604.62,396.82 L608.48,395.63 L612.04,397.11 L615.90,400.38 L619.75,407.20 L623.61,411.95 L627.17,409.87 L631.03,406.90 L634.88,406.31 L638.44,407.50 L642.30,409.57 L646.16,418.18 L649.72,410.76 L653.57,407.20 L657.13,406.61 L660.99,392.96 L664.55,392.96 L668.41,397.41 L672.26,406.31 L675.82,405.72 L679.68,407.50 L683.54,407.20 L687.10,403.94 L690.95,409.87 L694.81,408.98 L698.37,409.87 L702.22,413.43 L706.08,416.99 L709.64,420.85 L713.50,407.79 L717.35,405.42 L720.91,401.86 L724.77,403.05 L728.33,402.75 L732.19,401.86 L736.04,398.89 L739.60,403.05 L743.46,406.90 L747.02,397.71 L750.88,395.63 L754.73,400.08 L758.29,399.49 L762.15,396.52 L766.01,399.19 L769.57,397.41 L773.42,390.29 L777.28,376.64 L780.84,372.19 L784.70,371.90 L788.55,366.56 L792.11,364.78 L795.97,370.71 L799.83,368.04 L803.39,366.56 L807.24,370.12 L810.80,370.41 L814.66,372.19 L818.22,371.90 L822.37,364.18 L825.93,367.45 L829.79,368.93 L833.65,371.30 L837.21,370.41 L841.06,365.96 L844.92,369.82 L848.48,370.12 L852.34,370.71 L855.90,376.64 L859.75,384.06 L863.61,386.73 L867.47,381.39 L871.03,379.02 L874.88,381.69 L878.74,378.72 L882.30,371.90 L886.16,373.97 L890.01,374.86 L893.57,366.26 L897.43,368.04 L901.29,363.29 L904.85,354.99 L908.70,369.23 L912.56,371.90 L916.12,371.90 L919.98,372.19 L923.83,375.46 L927.39,385.25 L931.25,380.80 L935.11,386.14 L938.67,373.68 L942.52,377.83 L946.38,383.47 L949.94,392.96 L953.79,388.51 L957.65,389.99 L961.21,385.84 L965.07,398.89 L968.63,397.41 L972.48,399.19 L976.34,395.63 L980.20,389.70 L983.76,388.51 L987.61,391.48 L991.17,391.77 L995.03,392.96 L998.89,390.29 L1002.45,387.62 L1006.30,389.10 L1009.86,382.58 L1013.72,377.53 L1017.58,375.46 L1021.14,375.75 L1024.99,377.83 L1028.85,378.13 L1032.71,373.97 L1036.27,374.86 L1040.12,372.79 L1043.98,376.94 L1047.54,377.24 L1051.10,378.42 L1054.96,385.84 L1058.52,388.21 L1062.67,383.47 L1066.23,396.82 L1070.09,395.04 L1073.65,395.04 L1077.50,387.92 L1081.36,380.80 L1084.92,381.98 L1088.78,368.04 L1092.63,361.81 L1096.19,357.36 L1100.05,356.77 L1103.91,352.91 L1107.47,349.65 L1111.32,359.73 L1114.88,354.39 L1118.74,359.14 L1122.30,384.95 L1126.16,391.18 L1130.01,378.42 L1133.57,378.13 L1137.43,384.95 L1141.29,391.77 L1145.14,399.49 L1149.00,404.53 L1152.56,402.45 L1156.42,397.11 L1160.27,392.07 L1163.83,398.60 L1167.69,400.97 L1171.55,393.55 L1175.11,390.88 L1178.96,388.81 L1182.82,380.50 L1186.38,381.69 L1189.94,384.95 L1193.79,393.26 L1197.65,398.89 L1201.21,395.33 L1205.07,393.55 L1208.92,392.07 L1212.48,404.83 L1216.34,418.18 L1220.20,412.84 L1223.76,419.66" fill="none" stroke="#7f7f7f" stroke-width="1.75" stroke-linejoin="round" stroke-linecap="butt"/></svg><svg class="abs" style="left:0;top:0;will-change:transform" width="1340" height="573" font-family="'Liberation Sans',sans-serif">
<text x="95.6" y="80.1" font-size="16.09" text-anchor="start" fill="#2a3f5f" textLength="280.42" lengthAdjust="spacing">Trend Accumulation Score by Cohort</text>
<text x="102.3" y="142.86" font-size="11.35" text-anchor="end" fill="#2a3f5f" textLength="20.11" lengthAdjust="spacing">10k</text>
<text x="102.3" y="169.58" font-size="11.35" text-anchor="end" fill="#2a3f5f" textLength="37.23" lengthAdjust="spacing">1k-10k</text>
<text x="102.3" y="196.29" font-size="11.35" text-anchor="end" fill="#2a3f5f" textLength="37.85" lengthAdjust="spacing">100-1k</text>
<text x="102.3" y="223.01" font-size="11.35" text-anchor="end" fill="#2a3f5f" textLength="38.47" lengthAdjust="spacing">10-100</text>
<text x="102.3" y="249.73" font-size="11.35" text-anchor="end" fill="#2a3f5f" textLength="24.65" lengthAdjust="spacing">1-10</text>
<text x="102.3" y="276.44" font-size="11.35" text-anchor="end" fill="#2a3f5f" textLength="6.91" lengthAdjust="spacing">1</text>
<path d="M74.3,136.3 L81,139.1 L74.3,141.9" fill="none" stroke="#2a3f5f" stroke-width="1.05"/>
<path d="M94.4,270 L87.7,272.8 L94.4,275.6" fill="none" stroke="#2a3f5f" stroke-width="1.05"/>
<text x="102.3" y="368.0" font-size="11.35" text-anchor="end" fill="#2a3f5f" textLength="27.02" lengthAdjust="spacing">120k</text>
<text x="102.3" y="397.8" font-size="11.35" text-anchor="end" fill="#2a3f5f" textLength="27.02" lengthAdjust="spacing">110k</text>
<text x="102.3" y="427.6" font-size="11.35" text-anchor="end" fill="#2a3f5f" textLength="27.02" lengthAdjust="spacing">100k</text>
<text x="102.3" y="457.4" font-size="11.35" text-anchor="end" fill="#2a3f5f" textLength="20.11" lengthAdjust="spacing">90k</text>
<text x="102.3" y="487.1" font-size="11.35" text-anchor="end" fill="#2a3f5f" textLength="20.11" lengthAdjust="spacing">80k</text>
<text x="180.4" y="514.0" font-size="11.35" text-anchor="middle" fill="#2a3f5f" textLength="50.32" lengthAdjust="spacing">Feb 2025</text>
<text x="285.4" y="514.0" font-size="11.35" text-anchor="middle" fill="#2a3f5f" textLength="51.58" lengthAdjust="spacing">Mar 2025</text>
<text x="401.8" y="514.0" font-size="11.35" text-anchor="middle" fill="#2a3f5f" textLength="49.88" lengthAdjust="spacing">Apr 2025</text>
<text x="514.5" y="514.0" font-size="11.35" text-anchor="middle" fill="#2a3f5f" textLength="53.54" lengthAdjust="spacing">May 2025</text>
<text x="630.9" y="514.0" font-size="11.35" text-anchor="middle" fill="#2a3f5f" textLength="48.06" lengthAdjust="spacing">Jun 2025</text>
<text x="743.5" y="514.0" font-size="11.35" text-anchor="middle" fill="#2a3f5f" textLength="44.19" lengthAdjust="spacing">Jul 2025</text>
<text x="859.9" y="514.0" font-size="11.35" text-anchor="middle" fill="#2a3f5f" textLength="52.30" lengthAdjust="spacing">Aug 2025</text>
<text x="976.1" y="514.0" font-size="11.35" text-anchor="middle" fill="#2a3f5f" textLength="51.56" lengthAdjust="spacing">Sep 2025</text>
<text x="1088.8" y="514.0" font-size="11.35" text-anchor="middle" fill="#2a3f5f" textLength="49.87" lengthAdjust="spacing">Oct 2025</text>
<text x="1205.2" y="514.0" font-size="11.35" text-anchor="middle" fill="#2a3f5f" textLength="52.29" lengthAdjust="spacing">Nov 2025</text>
<text x="1288.2" y="138.3" font-size="11.35" text-anchor="start" fill="#2a3f5f" textLength="6.91" lengthAdjust="spacing">1</text>
<text x="1288.2" y="210.1" font-size="11.35" text-anchor="start" fill="#2a3f5f" textLength="17.27" lengthAdjust="spacing">0.8</text>
<text x="1288.2" y="281.9" font-size="11.35" text-anchor="start" fill="#2a3f5f" textLength="17.27" lengthAdjust="spacing">0.6</text>
<text x="1288.2" y="353.7" font-size="11.35" text-anchor="start" fill="#2a3f5f" textLength="17.27" lengthAdjust="spacing">0.4</text>
<text x="1288.2" y="425.5" font-size="11.35" text-anchor="start" fill="#2a3f5f" textLength="17.27" lengthAdjust="spacing">0.2</text>
<text x="1288.2" y="497.3" font-size="11.35" text-anchor="start" fill="#2a3f5f" textLength="6.91" lengthAdjust="spacing">0</text>
<text x="47.1" y="205.3" font-size="13.43" text-anchor="middle" fill="#2a3f5f" textLength="97.29" lengthAdjust="spacing" transform="rotate(-90 47.1 205.3)">Cohorts by BTC</text>
<text x="58.6" y="422.2" font-size="13.43" text-anchor="middle" fill="#2a3f5f" textLength="30.91" lengthAdjust="spacing" transform="rotate(-90 58.6 422.2)">Price</text>
<text x="104.9" y="543.9" font-size="14.18" text-anchor="start" fill="#a9b0bf" textLength="216.83" lengthAdjust="spacing">Based on data from 2025-11-07</text>
<text x="1223.6" y="543.9" font-size="14.18" text-anchor="end" fill="#a9b0bf" textLength="267.38" lengthAdjust="spacing">© 2025 Glassnode. All Rights Reserved</text>
</svg></body></html>
